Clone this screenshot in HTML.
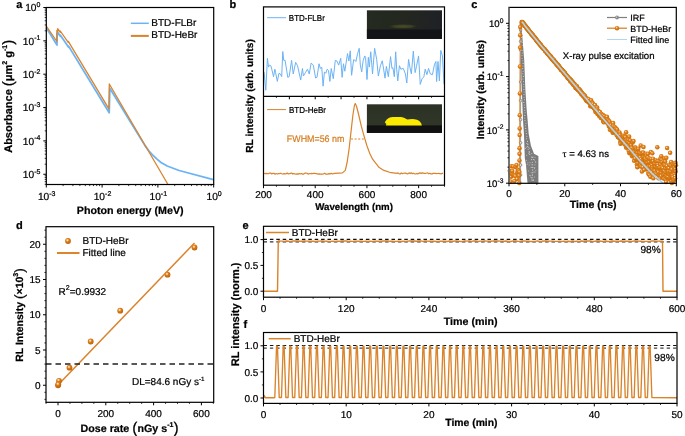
<!DOCTYPE html>
<html><head><meta charset="utf-8"><style>
html,body{margin:0;padding:0;background:#fff;overflow:hidden;}
svg{display:block;will-change:transform;}
text{font-family:"Liberation Sans",sans-serif;text-rendering:geometricPrecision;stroke:#000;stroke-width:0.22px;}
</style></head><body>
<svg width="685" height="436" viewBox="0 0 685 436">
<rect width="685" height="436" fill="#fff"/>
<text x="16.2" y="7.9" font-size="11" font-weight="bold" text-anchor="start" fill="#000" font-family="Liberation Sans" >a</text>
<polyline points="46.3,27.8 57,45 57,33.5 57.8,34.6 57.8,32.6 60.4,36.3 60.4,35.2 68.6,47.3 68.7,46.4 109.2,112.7 109.8,88.2 145,145.6 149,151 152.5,154.8 156.7,158.9 161,162.5 167.2,166 179.1,170.5 213.4,179.7" fill="none" stroke="#6cb3f5" stroke-width="1.8" stroke-linejoin="round" />
<polyline points="46.3,26.2 56.9,41.5 56.9,30.4 57.7,31.6 57.7,28.7 60.3,32.4 60.3,31 68.2,42.3 68.3,41.3 108.9,108.8 109.3,84 168,184.5" fill="none" stroke="#d9832b" stroke-width="1.3" stroke-linejoin="round" />
<rect x="46.3" y="7.5" width="167.4" height="177" fill="none" stroke="#000" stroke-width="1.2"/>
<line x1="43.3" y1="7.5" x2="46.3" y2="7.5" stroke="#000" stroke-width="1" />
<text x="40.4" y="11.3" font-size="10.2" text-anchor="end" font-weight="normal" font-family="Liberation Sans">10<tspan font-size="7" dy="-4.3">0</tspan></text>
<line x1="44.7" y1="30.81" x2="46.3" y2="30.81" stroke="#000" stroke-width="0.8" />
<line x1="44.7" y1="24.94" x2="46.3" y2="24.94" stroke="#000" stroke-width="0.8" />
<line x1="44.7" y1="20.77" x2="46.3" y2="20.77" stroke="#000" stroke-width="0.8" />
<line x1="44.7" y1="17.54" x2="46.3" y2="17.54" stroke="#000" stroke-width="0.8" />
<line x1="44.7" y1="14.9" x2="46.3" y2="14.9" stroke="#000" stroke-width="0.8" />
<line x1="44.7" y1="12.67" x2="46.3" y2="12.67" stroke="#000" stroke-width="0.8" />
<line x1="44.7" y1="10.73" x2="46.3" y2="10.73" stroke="#000" stroke-width="0.8" />
<line x1="44.7" y1="9.03" x2="46.3" y2="9.03" stroke="#000" stroke-width="0.8" />
<line x1="43.3" y1="40.85" x2="46.3" y2="40.85" stroke="#000" stroke-width="1" />
<text x="40.4" y="44.65" font-size="10.2" text-anchor="end" font-weight="normal" font-family="Liberation Sans">10<tspan font-size="7" dy="-4.3">-1</tspan></text>
<line x1="44.7" y1="64.16" x2="46.3" y2="64.16" stroke="#000" stroke-width="0.8" />
<line x1="44.7" y1="58.29" x2="46.3" y2="58.29" stroke="#000" stroke-width="0.8" />
<line x1="44.7" y1="54.12" x2="46.3" y2="54.12" stroke="#000" stroke-width="0.8" />
<line x1="44.7" y1="50.89" x2="46.3" y2="50.89" stroke="#000" stroke-width="0.8" />
<line x1="44.7" y1="48.25" x2="46.3" y2="48.25" stroke="#000" stroke-width="0.8" />
<line x1="44.7" y1="46.02" x2="46.3" y2="46.02" stroke="#000" stroke-width="0.8" />
<line x1="44.7" y1="44.08" x2="46.3" y2="44.08" stroke="#000" stroke-width="0.8" />
<line x1="44.7" y1="42.38" x2="46.3" y2="42.38" stroke="#000" stroke-width="0.8" />
<line x1="43.3" y1="74.2" x2="46.3" y2="74.2" stroke="#000" stroke-width="1" />
<text x="40.4" y="78" font-size="10.2" text-anchor="end" font-weight="normal" font-family="Liberation Sans">10<tspan font-size="7" dy="-4.3">-2</tspan></text>
<line x1="44.7" y1="97.51" x2="46.3" y2="97.51" stroke="#000" stroke-width="0.8" />
<line x1="44.7" y1="91.64" x2="46.3" y2="91.64" stroke="#000" stroke-width="0.8" />
<line x1="44.7" y1="87.47" x2="46.3" y2="87.47" stroke="#000" stroke-width="0.8" />
<line x1="44.7" y1="84.24" x2="46.3" y2="84.24" stroke="#000" stroke-width="0.8" />
<line x1="44.7" y1="81.6" x2="46.3" y2="81.6" stroke="#000" stroke-width="0.8" />
<line x1="44.7" y1="79.37" x2="46.3" y2="79.37" stroke="#000" stroke-width="0.8" />
<line x1="44.7" y1="77.43" x2="46.3" y2="77.43" stroke="#000" stroke-width="0.8" />
<line x1="44.7" y1="75.73" x2="46.3" y2="75.73" stroke="#000" stroke-width="0.8" />
<line x1="43.3" y1="107.55" x2="46.3" y2="107.55" stroke="#000" stroke-width="1" />
<text x="40.4" y="111.35" font-size="10.2" text-anchor="end" font-weight="normal" font-family="Liberation Sans">10<tspan font-size="7" dy="-4.3">-3</tspan></text>
<line x1="44.7" y1="130.86" x2="46.3" y2="130.86" stroke="#000" stroke-width="0.8" />
<line x1="44.7" y1="124.99" x2="46.3" y2="124.99" stroke="#000" stroke-width="0.8" />
<line x1="44.7" y1="120.82" x2="46.3" y2="120.82" stroke="#000" stroke-width="0.8" />
<line x1="44.7" y1="117.59" x2="46.3" y2="117.59" stroke="#000" stroke-width="0.8" />
<line x1="44.7" y1="114.95" x2="46.3" y2="114.95" stroke="#000" stroke-width="0.8" />
<line x1="44.7" y1="112.72" x2="46.3" y2="112.72" stroke="#000" stroke-width="0.8" />
<line x1="44.7" y1="110.78" x2="46.3" y2="110.78" stroke="#000" stroke-width="0.8" />
<line x1="44.7" y1="109.08" x2="46.3" y2="109.08" stroke="#000" stroke-width="0.8" />
<line x1="43.3" y1="140.9" x2="46.3" y2="140.9" stroke="#000" stroke-width="1" />
<text x="40.4" y="144.7" font-size="10.2" text-anchor="end" font-weight="normal" font-family="Liberation Sans">10<tspan font-size="7" dy="-4.3">-4</tspan></text>
<line x1="44.7" y1="164.21" x2="46.3" y2="164.21" stroke="#000" stroke-width="0.8" />
<line x1="44.7" y1="158.34" x2="46.3" y2="158.34" stroke="#000" stroke-width="0.8" />
<line x1="44.7" y1="154.17" x2="46.3" y2="154.17" stroke="#000" stroke-width="0.8" />
<line x1="44.7" y1="150.94" x2="46.3" y2="150.94" stroke="#000" stroke-width="0.8" />
<line x1="44.7" y1="148.3" x2="46.3" y2="148.3" stroke="#000" stroke-width="0.8" />
<line x1="44.7" y1="146.07" x2="46.3" y2="146.07" stroke="#000" stroke-width="0.8" />
<line x1="44.7" y1="144.13" x2="46.3" y2="144.13" stroke="#000" stroke-width="0.8" />
<line x1="44.7" y1="142.43" x2="46.3" y2="142.43" stroke="#000" stroke-width="0.8" />
<line x1="43.3" y1="174.25" x2="46.3" y2="174.25" stroke="#000" stroke-width="1" />
<text x="40.4" y="178.05" font-size="10.2" text-anchor="end" font-weight="normal" font-family="Liberation Sans">10<tspan font-size="7" dy="-4.3">-5</tspan></text>
<line x1="44.7" y1="184.29" x2="46.3" y2="184.29" stroke="#000" stroke-width="0.8" />
<line x1="44.7" y1="181.65" x2="46.3" y2="181.65" stroke="#000" stroke-width="0.8" />
<line x1="44.7" y1="179.42" x2="46.3" y2="179.42" stroke="#000" stroke-width="0.8" />
<line x1="44.7" y1="177.48" x2="46.3" y2="177.48" stroke="#000" stroke-width="0.8" />
<line x1="44.7" y1="175.78" x2="46.3" y2="175.78" stroke="#000" stroke-width="0.8" />
<line x1="46.3" y1="184.5" x2="46.3" y2="187.5" stroke="#000" stroke-width="1" />
<text x="46.7" y="199.9" font-size="10.2" text-anchor="middle" font-family="Liberation Sans">10<tspan font-size="7" dy="-4.2">-3</tspan></text>
<line x1="63.1" y1="184.5" x2="63.1" y2="186.1" stroke="#000" stroke-width="0.8" />
<line x1="72.92" y1="184.5" x2="72.92" y2="186.1" stroke="#000" stroke-width="0.8" />
<line x1="79.89" y1="184.5" x2="79.89" y2="186.1" stroke="#000" stroke-width="0.8" />
<line x1="85.3" y1="184.5" x2="85.3" y2="186.1" stroke="#000" stroke-width="0.8" />
<line x1="89.72" y1="184.5" x2="89.72" y2="186.1" stroke="#000" stroke-width="0.8" />
<line x1="93.46" y1="184.5" x2="93.46" y2="186.1" stroke="#000" stroke-width="0.8" />
<line x1="96.69" y1="184.5" x2="96.69" y2="186.1" stroke="#000" stroke-width="0.8" />
<line x1="99.55" y1="184.5" x2="99.55" y2="186.1" stroke="#000" stroke-width="0.8" />
<line x1="102.1" y1="184.5" x2="102.1" y2="187.5" stroke="#000" stroke-width="1" />
<text x="102.5" y="199.9" font-size="10.2" text-anchor="middle" font-family="Liberation Sans">10<tspan font-size="7" dy="-4.2">-2</tspan></text>
<line x1="118.9" y1="184.5" x2="118.9" y2="186.1" stroke="#000" stroke-width="0.8" />
<line x1="128.72" y1="184.5" x2="128.72" y2="186.1" stroke="#000" stroke-width="0.8" />
<line x1="135.69" y1="184.5" x2="135.69" y2="186.1" stroke="#000" stroke-width="0.8" />
<line x1="141.1" y1="184.5" x2="141.1" y2="186.1" stroke="#000" stroke-width="0.8" />
<line x1="145.52" y1="184.5" x2="145.52" y2="186.1" stroke="#000" stroke-width="0.8" />
<line x1="149.26" y1="184.5" x2="149.26" y2="186.1" stroke="#000" stroke-width="0.8" />
<line x1="152.49" y1="184.5" x2="152.49" y2="186.1" stroke="#000" stroke-width="0.8" />
<line x1="155.35" y1="184.5" x2="155.35" y2="186.1" stroke="#000" stroke-width="0.8" />
<line x1="157.9" y1="184.5" x2="157.9" y2="187.5" stroke="#000" stroke-width="1" />
<text x="158.3" y="199.9" font-size="10.2" text-anchor="middle" font-family="Liberation Sans">10<tspan font-size="7" dy="-4.2">-1</tspan></text>
<line x1="174.7" y1="184.5" x2="174.7" y2="186.1" stroke="#000" stroke-width="0.8" />
<line x1="184.52" y1="184.5" x2="184.52" y2="186.1" stroke="#000" stroke-width="0.8" />
<line x1="191.49" y1="184.5" x2="191.49" y2="186.1" stroke="#000" stroke-width="0.8" />
<line x1="196.9" y1="184.5" x2="196.9" y2="186.1" stroke="#000" stroke-width="0.8" />
<line x1="201.32" y1="184.5" x2="201.32" y2="186.1" stroke="#000" stroke-width="0.8" />
<line x1="205.06" y1="184.5" x2="205.06" y2="186.1" stroke="#000" stroke-width="0.8" />
<line x1="208.29" y1="184.5" x2="208.29" y2="186.1" stroke="#000" stroke-width="0.8" />
<line x1="211.15" y1="184.5" x2="211.15" y2="186.1" stroke="#000" stroke-width="0.8" />
<line x1="213.7" y1="184.5" x2="213.7" y2="187.5" stroke="#000" stroke-width="1" />
<text x="214.1" y="199.9" font-size="10.2" text-anchor="middle" font-family="Liberation Sans">10<tspan font-size="7" dy="-4.2">0</tspan></text>
<text x="130.2" y="213.6" font-size="10.7" font-weight="bold" text-anchor="middle" fill="#000" font-family="Liberation Sans" >Photon energy (MeV)</text>
<text transform="translate(11.9,152.8) rotate(-90)" font-size="11" font-weight="bold" text-anchor="start" font-family="Liberation Sans">Absorbance <tspan font-size="15" dy="1.2" font-weight="normal">(</tspan><tspan dy="-1.2">μm</tspan><tspan font-size="7" dy="-4.6">2</tspan><tspan dy="4.6"> g</tspan><tspan font-size="7" dy="-4.6">-1</tspan><tspan font-size="15" dy="5.8" font-weight="normal">)</tspan></text>
<line x1="130.8" y1="23.3" x2="148.8" y2="23.3" stroke="#6cb3f5" stroke-width="1.5" />
<line x1="130.8" y1="35.9" x2="148.8" y2="35.9" stroke="#d9832b" stroke-width="2" />
<text x="151.3" y="25.6" font-size="10" font-weight="normal" text-anchor="start" fill="#000" font-family="Liberation Sans" >BTD-FLBr</text>
<text x="151.3" y="38.1" font-size="10" font-weight="normal" text-anchor="start" fill="#000" font-family="Liberation Sans" >BTD-HeBr</text>
<text x="229.6" y="8" font-size="11" font-weight="bold" text-anchor="start" fill="#000" font-family="Liberation Sans" >b</text>
<polyline points="264.04,71.9 265.8,90.23 267.43,58.33 268.52,67.15 269.47,65.12 270.82,65.79 271.77,69.19 273.54,76.65 274.9,69.19 275.58,72.58 277.34,81.41 278.97,73.26 280.33,73.94 281.69,76.65 282.77,51.54 283.72,60.36 285.08,60.36 287.79,77.33 289.15,76.65 291.6,60.36 293.22,73.94 295.67,62.4 297.57,65.79 300.69,80.05 302.46,68.51 303.41,75.98 305.44,72.58 307.48,69.19 309.24,73.94 311.14,63.08 313.32,65.12 315.62,78.01 316.98,77.33 319.02,63.76 320.38,68.51 321.73,67.15 323.09,86.16 324.45,71.9 325.81,73.26 327.16,69.19 328.52,70.55 329.88,81.41 331.24,68.51 333.27,78.69 335.31,60.36 336.94,61.04 338.7,65.12 340.74,58.33 342.1,77.33 343.46,63.76 344.81,71.22 347.53,53.58 348.89,61.04 350.24,50.86 351.6,75.3 353.64,59.69 354.77,60.11 355.88,61.5 357.55,53.87 359.21,48.32 360.32,64.97 361.71,71.9 363.1,60.8 364.76,55.95 365.59,57.34 366.98,79.53 368.37,57.34 369.34,67.05 370.72,51.79 371.42,59.42 372.53,73.98 374.61,48.32 376.69,59.42 378.35,76.06 380.43,65.66 382.24,60.8 383.62,69.13 385.01,78.14 386.4,66.35 388.34,76.75 390.56,56.64 391.94,68.43 392.92,67.74 394.3,76.75 395.69,51.79 396.66,69.13 397.77,80.92 399.43,65.66 400.82,69.13 403.32,68.43 405.4,73.98 406.79,83 408.59,59.42 409.98,67.74 411.36,73.98 413.3,51.1 415.11,72.59 416.49,66.35 418.57,55.95 420.24,84.38 422.04,78.83 423.84,76.75 425.23,69.13 426.9,74.67 428.56,68.43 430.36,73.98 432.44,74.67 434.52,64.27 435.91,61.5 436.6,81.61 437.99,61.5 439.38,80.92 440.77,50.4 442.43,55.95 444,84.38" fill="none" stroke="#6cb3f5" stroke-width="1" stroke-linejoin="round" />
<polyline points="264.1,173.29 265.2,173.65 266.3,173.44 267.4,173.72 268.5,173.75 269.6,173.08 270.7,173.02 271.8,174 272.9,173.31 274,173.28 275.1,174.19 276.2,173.56 277.3,174 278.4,173.57 279.5,173.77 280.6,173.18 281.7,173.76 282.8,174.04 283.9,173.63 285,173.89 286.1,173.81 287.2,173.08 288.3,173.91 289.4,173.71 290.5,173.36 291.6,173.04 292.7,174.04 293.8,173.57 294.9,173.86 296,174.05 297.1,173.86 298.2,174.11 299.3,173.47 300.4,173.96 301.5,173.53 302.6,174.12 303.7,174.05 304.8,173.12 305.9,173.16 307,173.26 308.1,174.16 309.2,173.52 310.3,173.75 311.4,173.36 312.5,173.61 313.6,173.46 314.7,173.42 315.8,173.7 316.9,173.7 318,174.09 319.1,173.82 320.2,174.11 321.3,174.03 322.4,174.19 323.5,173.81 324.6,173.2 325.7,174.03 326.8,174.16 327.9,174.09 329,173.68 330.1,173.86 331.2,173.25 332.3,174 333.4,173.69 334.5,173.34 335,173.3 342.5,172.9 345.3,170.4 347.2,162 349.1,148.8 351,131.9 352.9,115 354.4,105.5 355.3,103.6 356.6,106.5 358.5,114 361.3,126.2 364.2,136.6 367,146 369.8,153.5 372.6,159.2 375.5,162.9 379.2,167.6 383.9,170.4 389.6,172.3 397.1,173.3 398,172.88 399.1,173.82 400.2,173.99 401.3,172.91 402.4,173.76 403.5,173.29 404.6,172.98 405.7,173.15 406.8,173.72 407.9,173.85 409,172.85 410.1,173.54 411.2,172.85 412.3,173.66 413.4,173.2 414.5,173.86 415.6,173.98 416.7,173.41 417.8,174 418.9,173.17 420,172.89 421.1,173.52 422.2,172.84 423.3,173.04 424.4,173.29 425.5,173.53 426.6,172.99 427.7,172.85 428.8,173.84 429.9,173.18 431,173.95 432.1,173.88 433.2,173.25 434.3,173.35 435.4,173.42 436.5,173.57 437.6,173.51 438.7,173.47 439.8,173.54 440.9,173.93 442,173.41 443.1,173.32" fill="none" stroke="#d9832b" stroke-width="1.2" stroke-linejoin="round" />
<line x1="351" y1="139" x2="365" y2="139" stroke="#d9832b" stroke-width="1" stroke-dasharray="2,1.6"/>
<text x="286.8" y="141.8" font-size="9.6" font-weight="normal" text-anchor="start" fill="#d67d1e" font-family="Liberation Sans" textLength="57.6" lengthAdjust="spacingAndGlyphs" style="stroke:#d67d1e">FWHM=56 nm</text>
<defs><linearGradient id="ins1" x1="0" x2="1" y1="0" y2="0"><stop offset="0" stop-color="#252b21"/><stop offset="0.5" stop-color="#23271f"/><stop offset="1" stop-color="#1f2126"/></linearGradient><radialGradient id="glow" cx="0.5" cy="0.5" r="0.5"><stop offset="0" stop-color="#4a4d25"/><stop offset="0.6" stop-color="#3a3e24"/><stop offset="1" stop-color="#23271f" stop-opacity="0"/></radialGradient><linearGradient id="ins2" x1="0" x2="0" y1="0" y2="1"><stop offset="0" stop-color="#2b3124"/><stop offset="1" stop-color="#323829"/></linearGradient></defs>
<rect x="366.9" y="10.3" width="75.1" height="28.6" fill="url(#ins1)" />
<ellipse cx="403" cy="26.4" rx="16" ry="2.6" fill="url(#glow)"/>
<rect x="366.9" y="29.5" width="75.1" height="9.4" fill="#131418" />
<rect x="366.9" y="104.3" width="75.1" height="28.6" fill="url(#ins2)" />
<rect x="366.9" y="125.4" width="75.1" height="7.5" fill="#101110" />
<path d="M384.8,122.2 L386.5,119.8 C388,117.9 390,117 393,116.9 L401,116.9 C404.5,117.2 406,118.8 407.5,119.6 C410,118.8 414,118.6 417,119.8 C420,121 421.6,123 421.8,125.6 L386,125.6 L386.3,124 Z" fill="#fbeb00"/>
<rect x="263.5" y="6.9" width="181" height="178.3" fill="none" stroke="#000" stroke-width="1.2"/>
<line x1="263.5" y1="96.3" x2="444.5" y2="96.3" stroke="#000" stroke-width="1.2" />
<line x1="263.5" y1="185.2" x2="263.5" y2="188.2" stroke="#000" stroke-width="1" />
<line x1="263.5" y1="96.3" x2="263.5" y2="99.3" stroke="#000" stroke-width="1" />
<text x="263.5" y="198.3" font-size="10" font-weight="normal" text-anchor="middle" fill="#000" font-family="Liberation Sans" >200</text>
<line x1="276.43" y1="185.2" x2="276.43" y2="186.8" stroke="#000" stroke-width="0.8" />
<line x1="276.43" y1="96.3" x2="276.43" y2="97.9" stroke="#000" stroke-width="0.8" />
<line x1="289.36" y1="185.2" x2="289.36" y2="186.8" stroke="#000" stroke-width="0.8" />
<line x1="289.36" y1="96.3" x2="289.36" y2="99.3" stroke="#000" stroke-width="1" />
<line x1="302.29" y1="185.2" x2="302.29" y2="186.8" stroke="#000" stroke-width="0.8" />
<line x1="302.29" y1="96.3" x2="302.29" y2="97.9" stroke="#000" stroke-width="0.8" />
<line x1="315.21" y1="185.2" x2="315.21" y2="188.2" stroke="#000" stroke-width="1" />
<line x1="315.21" y1="96.3" x2="315.21" y2="99.3" stroke="#000" stroke-width="1" />
<text x="315.21" y="198.3" font-size="10" font-weight="normal" text-anchor="middle" fill="#000" font-family="Liberation Sans" >400</text>
<line x1="328.14" y1="185.2" x2="328.14" y2="186.8" stroke="#000" stroke-width="0.8" />
<line x1="328.14" y1="96.3" x2="328.14" y2="97.9" stroke="#000" stroke-width="0.8" />
<line x1="341.07" y1="185.2" x2="341.07" y2="186.8" stroke="#000" stroke-width="0.8" />
<line x1="341.07" y1="96.3" x2="341.07" y2="99.3" stroke="#000" stroke-width="1" />
<line x1="354" y1="185.2" x2="354" y2="186.8" stroke="#000" stroke-width="0.8" />
<line x1="354" y1="96.3" x2="354" y2="97.9" stroke="#000" stroke-width="0.8" />
<line x1="366.93" y1="185.2" x2="366.93" y2="188.2" stroke="#000" stroke-width="1" />
<line x1="366.93" y1="96.3" x2="366.93" y2="99.3" stroke="#000" stroke-width="1" />
<text x="366.93" y="198.3" font-size="10" font-weight="normal" text-anchor="middle" fill="#000" font-family="Liberation Sans" >600</text>
<line x1="379.86" y1="185.2" x2="379.86" y2="186.8" stroke="#000" stroke-width="0.8" />
<line x1="379.86" y1="96.3" x2="379.86" y2="97.9" stroke="#000" stroke-width="0.8" />
<line x1="392.79" y1="185.2" x2="392.79" y2="186.8" stroke="#000" stroke-width="0.8" />
<line x1="392.79" y1="96.3" x2="392.79" y2="99.3" stroke="#000" stroke-width="1" />
<line x1="405.71" y1="185.2" x2="405.71" y2="186.8" stroke="#000" stroke-width="0.8" />
<line x1="405.71" y1="96.3" x2="405.71" y2="97.9" stroke="#000" stroke-width="0.8" />
<line x1="418.64" y1="185.2" x2="418.64" y2="188.2" stroke="#000" stroke-width="1" />
<line x1="418.64" y1="96.3" x2="418.64" y2="99.3" stroke="#000" stroke-width="1" />
<text x="418.64" y="198.3" font-size="10" font-weight="normal" text-anchor="middle" fill="#000" font-family="Liberation Sans" >800</text>
<line x1="431.57" y1="185.2" x2="431.57" y2="186.8" stroke="#000" stroke-width="0.8" />
<line x1="431.57" y1="96.3" x2="431.57" y2="97.9" stroke="#000" stroke-width="0.8" />
<line x1="444.5" y1="185.2" x2="444.5" y2="186.8" stroke="#000" stroke-width="0.8" />
<line x1="444.5" y1="96.3" x2="444.5" y2="99.3" stroke="#000" stroke-width="1" />
<text x="354.1" y="209.9" font-size="9.7" font-weight="bold" text-anchor="middle" fill="#000" font-family="Liberation Sans" >Wavelength (nm)</text>
<text transform="translate(253.2,96) rotate(-90)" font-size="10.2" font-weight="bold" text-anchor="middle" font-family="Liberation Sans">RL intensity (arb. units)</text>
<line x1="267.1" y1="17.7" x2="286" y2="17.7" stroke="#6cb3f5" stroke-width="1" />
<text x="288.8" y="20.8" font-size="8.6" font-weight="normal" text-anchor="start" fill="#000" font-family="Liberation Sans" textLength="36" lengthAdjust="spacingAndGlyphs">BTD-FLBr</text>
<line x1="267.1" y1="109.6" x2="285.9" y2="109.6" stroke="#d9832b" stroke-width="1" />
<text x="288.9" y="113.1" font-size="8.6" font-weight="normal" text-anchor="start" fill="#000" font-family="Liberation Sans" textLength="37.1" lengthAdjust="spacingAndGlyphs">BTD-HeBr</text>
<text x="471.2" y="7.7" font-size="11" font-weight="bold" text-anchor="start" fill="#000" font-family="Liberation Sans" >c</text>
<defs><radialGradient id="ob" cx="0.42" cy="0.38" r="0.62"><stop offset="0" stop-color="#fff6ea"/><stop offset="0.22" stop-color="#eda052"/><stop offset="0.5" stop-color="#d97a10"/><stop offset="1" stop-color="#cb6d0b"/></radialGradient></defs>
<path d="M520.2,22.4 L521.4,25 L522.6,40 L524.2,60 L525.4,90 L526.7,110 L527.6,120 L528.7,134 L531,146 L532.6,150 L534,153.8 L538.4,156 L538.4,183.3 L527.5,183.3 L526,165 L524.8,158 L524,135 L523,120 L521.8,90 L520.9,60 L520.4,40 L519.6,28 L519.6,23.5 Z" fill="#7c7c7c"/>
<circle cx="520.88" cy="27" r="0.55" fill="#d4d4d4"/>
<circle cx="520.57" cy="29.6" r="0.55" fill="#d4d4d4"/>
<circle cx="521.01" cy="32.2" r="0.55" fill="#d4d4d4"/>
<circle cx="521.34" cy="34.8" r="0.55" fill="#d4d4d4"/>
<circle cx="521.48" cy="37.4" r="0.55" fill="#d4d4d4"/>
<circle cx="521.83" cy="40" r="0.55" fill="#d4d4d4"/>
<circle cx="521.92" cy="42.6" r="0.55" fill="#d4d4d4"/>
<circle cx="522.11" cy="45.2" r="0.55" fill="#d4d4d4"/>
<circle cx="521.53" cy="47.8" r="0.55" fill="#d4d4d4"/>
<circle cx="522" cy="50.4" r="0.55" fill="#d4d4d4"/>
<circle cx="522.17" cy="53" r="0.55" fill="#d4d4d4"/>
<circle cx="521.97" cy="55.6" r="0.55" fill="#d4d4d4"/>
<circle cx="522.06" cy="58.2" r="0.55" fill="#d4d4d4"/>
<circle cx="522.84" cy="60.8" r="0.55" fill="#d4d4d4"/>
<circle cx="523.06" cy="63.4" r="0.55" fill="#d4d4d4"/>
<circle cx="522.99" cy="66" r="0.55" fill="#d4d4d4"/>
<circle cx="522.7" cy="68.6" r="0.55" fill="#d4d4d4"/>
<circle cx="523.11" cy="71.2" r="0.55" fill="#d4d4d4"/>
<circle cx="522.87" cy="73.8" r="0.55" fill="#d4d4d4"/>
<circle cx="523.32" cy="76.4" r="0.55" fill="#d4d4d4"/>
<circle cx="523.04" cy="79" r="0.55" fill="#d4d4d4"/>
<circle cx="523.53" cy="81.6" r="0.55" fill="#d4d4d4"/>
<circle cx="523.79" cy="84.2" r="0.55" fill="#d4d4d4"/>
<circle cx="523.88" cy="86.8" r="0.55" fill="#d4d4d4"/>
<circle cx="523.89" cy="89.4" r="0.55" fill="#d4d4d4"/>
<circle cx="524.04" cy="92" r="0.55" fill="#d4d4d4"/>
<circle cx="524.01" cy="94.6" r="0.55" fill="#d4d4d4"/>
<circle cx="524.02" cy="97.2" r="0.55" fill="#d4d4d4"/>
<circle cx="524.45" cy="99.8" r="0.55" fill="#d4d4d4"/>
<circle cx="523.92" cy="102.4" r="0.55" fill="#d4d4d4"/>
<circle cx="524.28" cy="105" r="0.55" fill="#d4d4d4"/>
<circle cx="524.61" cy="107.6" r="0.55" fill="#d4d4d4"/>
<circle cx="524.65" cy="110.2" r="0.55" fill="#d4d4d4"/>
<circle cx="525.07" cy="112.8" r="0.55" fill="#d4d4d4"/>
<circle cx="524.76" cy="115.4" r="0.55" fill="#d4d4d4"/>
<circle cx="524.82" cy="118" r="0.55" fill="#d4d4d4"/>
<circle cx="525.04" cy="120.6" r="0.55" fill="#d4d4d4"/>
<circle cx="525.9" cy="123.2" r="0.55" fill="#d4d4d4"/>
<circle cx="525.43" cy="125.8" r="0.55" fill="#d4d4d4"/>
<circle cx="525.69" cy="128.4" r="0.55" fill="#d4d4d4"/>
<circle cx="526" cy="131" r="0.55" fill="#d4d4d4"/>
<circle cx="526.39" cy="133.6" r="0.55" fill="#d4d4d4"/>
<circle cx="526.81" cy="136.2" r="0.55" fill="#d4d4d4"/>
<circle cx="526.54" cy="138.8" r="0.55" fill="#d4d4d4"/>
<circle cx="527.52" cy="141.4" r="0.55" fill="#d4d4d4"/>
<circle cx="527.68" cy="144" r="0.55" fill="#d4d4d4"/>
<circle cx="526.69" cy="143.38" r="0.5" fill="#c8c8c8"/>
<circle cx="527.88" cy="144.19" r="0.5" fill="#c8c8c8"/>
<circle cx="527.64" cy="146.6" r="0.55" fill="#d4d4d4"/>
<circle cx="526.22" cy="147.13" r="0.5" fill="#c8c8c8"/>
<circle cx="528.66" cy="147.2" r="0.5" fill="#c8c8c8"/>
<circle cx="528.16" cy="149.2" r="0.55" fill="#d4d4d4"/>
<circle cx="529.68" cy="148.35" r="0.5" fill="#c8c8c8"/>
<circle cx="525.54" cy="148.56" r="0.5" fill="#c8c8c8"/>
<circle cx="529.15" cy="151.8" r="0.55" fill="#d4d4d4"/>
<circle cx="529.19" cy="152.03" r="0.5" fill="#c8c8c8"/>
<circle cx="529.54" cy="152.07" r="0.5" fill="#c8c8c8"/>
<circle cx="529.8" cy="154.4" r="0.55" fill="#d4d4d4"/>
<circle cx="531.82" cy="153.43" r="0.5" fill="#c8c8c8"/>
<circle cx="528.89" cy="153.51" r="0.5" fill="#c8c8c8"/>
<circle cx="526.75" cy="155.21" r="0.5" fill="#c8c8c8"/>
<circle cx="531.66" cy="157" r="0.55" fill="#d4d4d4"/>
<circle cx="534.97" cy="157.21" r="0.5" fill="#c8c8c8"/>
<circle cx="532.42" cy="157.59" r="0.5" fill="#c8c8c8"/>
<circle cx="533.02" cy="157.02" r="0.5" fill="#c8c8c8"/>
<circle cx="532.24" cy="157.14" r="0.5" fill="#c8c8c8"/>
<circle cx="531.61" cy="159.6" r="0.55" fill="#d4d4d4"/>
<circle cx="533.64" cy="159.41" r="0.5" fill="#c8c8c8"/>
<circle cx="533.49" cy="159.57" r="0.5" fill="#c8c8c8"/>
<circle cx="534.55" cy="159.99" r="0.5" fill="#c8c8c8"/>
<circle cx="526.52" cy="160.16" r="0.5" fill="#c8c8c8"/>
<circle cx="532.28" cy="162.2" r="0.55" fill="#d4d4d4"/>
<circle cx="530.12" cy="162.67" r="0.5" fill="#c8c8c8"/>
<circle cx="535.72" cy="162.2" r="0.5" fill="#c8c8c8"/>
<circle cx="527.92" cy="162.66" r="0.5" fill="#c8c8c8"/>
<circle cx="535.64" cy="161.82" r="0.5" fill="#c8c8c8"/>
<circle cx="531.96" cy="164.8" r="0.55" fill="#d4d4d4"/>
<circle cx="534.97" cy="164.83" r="0.5" fill="#c8c8c8"/>
<circle cx="527.12" cy="164.19" r="0.5" fill="#c8c8c8"/>
<circle cx="529.23" cy="164.96" r="0.5" fill="#c8c8c8"/>
<circle cx="532.8" cy="164.83" r="0.5" fill="#c8c8c8"/>
<circle cx="532.17" cy="167.4" r="0.55" fill="#d4d4d4"/>
<circle cx="531.2" cy="167.4" r="0.5" fill="#c8c8c8"/>
<circle cx="533" cy="167.53" r="0.5" fill="#c8c8c8"/>
<circle cx="534.5" cy="168.39" r="0.5" fill="#c8c8c8"/>
<circle cx="534.84" cy="167.38" r="0.5" fill="#c8c8c8"/>
<circle cx="532.79" cy="170" r="0.55" fill="#d4d4d4"/>
<circle cx="528.66" cy="170.91" r="0.5" fill="#c8c8c8"/>
<circle cx="532.41" cy="169.97" r="0.5" fill="#c8c8c8"/>
<circle cx="535.89" cy="170.22" r="0.5" fill="#c8c8c8"/>
<circle cx="532.77" cy="172.6" r="0.55" fill="#d4d4d4"/>
<circle cx="531.23" cy="172.71" r="0.5" fill="#c8c8c8"/>
<circle cx="533.97" cy="172.07" r="0.5" fill="#c8c8c8"/>
<circle cx="535.09" cy="171.91" r="0.5" fill="#c8c8c8"/>
<circle cx="532.32" cy="175.2" r="0.55" fill="#d4d4d4"/>
<circle cx="530.41" cy="175.82" r="0.5" fill="#c8c8c8"/>
<circle cx="532.38" cy="174.27" r="0.5" fill="#c8c8c8"/>
<circle cx="529.73" cy="175.33" r="0.5" fill="#c8c8c8"/>
<circle cx="532.37" cy="177.8" r="0.55" fill="#d4d4d4"/>
<circle cx="531" cy="177.22" r="0.5" fill="#c8c8c8"/>
<circle cx="534.5" cy="177.09" r="0.5" fill="#c8c8c8"/>
<circle cx="531.51" cy="177.7" r="0.5" fill="#c8c8c8"/>
<circle cx="533.15" cy="180.4" r="0.55" fill="#d4d4d4"/>
<circle cx="531.95" cy="179.67" r="0.5" fill="#c8c8c8"/>
<circle cx="532.11" cy="180.14" r="0.5" fill="#c8c8c8"/>
<circle cx="533.45" cy="179.65" r="0.5" fill="#c8c8c8"/>
<line x1="520.6" y1="183.3" x2="520.6" y2="23" stroke="#7f7f7f" stroke-width="0.8" />
<circle cx="520.6" cy="29.8" r="1.3" fill="#e6e6e6" stroke="#7f7f7f" stroke-width="0.8"/>
<circle cx="520.6" cy="41.4" r="1.3" fill="#e6e6e6" stroke="#7f7f7f" stroke-width="0.8"/>
<circle cx="520.6" cy="50" r="1.3" fill="#e6e6e6" stroke="#7f7f7f" stroke-width="0.8"/>
<circle cx="520.6" cy="82" r="1.3" fill="#e6e6e6" stroke="#7f7f7f" stroke-width="0.8"/>
<circle cx="520.6" cy="100.6" r="1.3" fill="#e6e6e6" stroke="#7f7f7f" stroke-width="0.8"/>
<circle cx="520.6" cy="119.7" r="1.3" fill="#e6e6e6" stroke="#7f7f7f" stroke-width="0.8"/>
<circle cx="520.6" cy="142.8" r="1.3" fill="#e6e6e6" stroke="#7f7f7f" stroke-width="0.8"/>
<circle cx="520.6" cy="165" r="1.3" fill="#e6e6e6" stroke="#7f7f7f" stroke-width="0.8"/>
<circle cx="520.6" cy="175" r="1.3" fill="#e6e6e6" stroke="#7f7f7f" stroke-width="0.8"/>
<polyline points="519.04,175.56 519.3,183 519.37,172 519.44,160.4 519.48,153.8 519.52,148.3 519.6,135 519.64,128.5 519.72,115.3 519.86,93.4 520.03,66.5 520.15,47.6 520.22,35.2 520.27,27 521.7,22.09 521.9,22.34 522.1,22.08 522.3,22.37" fill="none" stroke="#d9832b" stroke-width="0.9" stroke-linejoin="round" />
<circle cx="509.8" cy="170.82" r="2.25" fill="url(#ob)"/>
<circle cx="510.22" cy="173.01" r="2.25" fill="url(#ob)"/>
<circle cx="510.64" cy="181.47" r="2.25" fill="url(#ob)"/>
<circle cx="511.06" cy="176.85" r="2.25" fill="url(#ob)"/>
<circle cx="511.48" cy="166.26" r="2.25" fill="url(#ob)"/>
<circle cx="511.9" cy="173.79" r="2.25" fill="url(#ob)"/>
<circle cx="512.32" cy="170.95" r="2.25" fill="url(#ob)"/>
<circle cx="512.74" cy="174.5" r="2.25" fill="url(#ob)"/>
<circle cx="513.16" cy="166.42" r="2.25" fill="url(#ob)"/>
<circle cx="513.58" cy="174.93" r="2.25" fill="url(#ob)"/>
<circle cx="514" cy="174.9" r="2.25" fill="url(#ob)"/>
<circle cx="514.42" cy="181.06" r="2.25" fill="url(#ob)"/>
<circle cx="514.84" cy="175.27" r="2.25" fill="url(#ob)"/>
<circle cx="515.26" cy="176.16" r="2.25" fill="url(#ob)"/>
<circle cx="515.68" cy="166.95" r="2.25" fill="url(#ob)"/>
<circle cx="516.52" cy="165" r="2.25" fill="url(#ob)"/>
<circle cx="516.94" cy="178.88" r="2.25" fill="url(#ob)"/>
<circle cx="517.36" cy="172.3" r="2.25" fill="url(#ob)"/>
<circle cx="517.78" cy="169.76" r="2.25" fill="url(#ob)"/>
<circle cx="518.2" cy="170.8" r="2.25" fill="url(#ob)"/>
<circle cx="518.62" cy="170.72" r="2.25" fill="url(#ob)"/>
<circle cx="519.04" cy="175.56" r="2.25" fill="url(#ob)"/>
<circle cx="519.3" cy="183" r="2.25" fill="url(#ob)"/>
<circle cx="519.37" cy="172" r="2.25" fill="url(#ob)"/>
<circle cx="519.44" cy="160.4" r="2.25" fill="url(#ob)"/>
<circle cx="519.48" cy="153.8" r="2.25" fill="url(#ob)"/>
<circle cx="519.52" cy="148.3" r="2.25" fill="url(#ob)"/>
<circle cx="519.6" cy="135" r="2.25" fill="url(#ob)"/>
<circle cx="519.64" cy="128.5" r="2.25" fill="url(#ob)"/>
<circle cx="519.72" cy="115.3" r="2.25" fill="url(#ob)"/>
<circle cx="519.86" cy="93.4" r="2.25" fill="url(#ob)"/>
<circle cx="520.03" cy="66.5" r="2.25" fill="url(#ob)"/>
<circle cx="520.15" cy="47.6" r="2.25" fill="url(#ob)"/>
<circle cx="520.22" cy="35.2" r="2.25" fill="url(#ob)"/>
<circle cx="520.27" cy="27" r="2.25" fill="url(#ob)"/>
<circle cx="521.7" cy="22.09" r="2.25" fill="url(#ob)"/>
<circle cx="521.9" cy="22.34" r="2.25" fill="url(#ob)"/>
<circle cx="522.1" cy="22.08" r="2.25" fill="url(#ob)"/>
<circle cx="522.3" cy="22.37" r="2.25" fill="url(#ob)"/>
<circle cx="522.5" cy="22.36" r="2.25" fill="url(#ob)"/>
<circle cx="522.7" cy="22.71" r="2.25" fill="url(#ob)"/>
<circle cx="522.9" cy="22.63" r="2.25" fill="url(#ob)"/>
<circle cx="523.1" cy="23.07" r="2.25" fill="url(#ob)"/>
<circle cx="523.3" cy="23.38" r="2.25" fill="url(#ob)"/>
<circle cx="523.5" cy="23.43" r="2.25" fill="url(#ob)"/>
<circle cx="523.7" cy="24.03" r="2.25" fill="url(#ob)"/>
<circle cx="523.9" cy="24.26" r="2.25" fill="url(#ob)"/>
<circle cx="524.1" cy="24.68" r="2.25" fill="url(#ob)"/>
<circle cx="524.3" cy="24.99" r="2.25" fill="url(#ob)"/>
<circle cx="524.5" cy="25.08" r="2.25" fill="url(#ob)"/>
<circle cx="524.7" cy="25.35" r="2.25" fill="url(#ob)"/>
<circle cx="524.9" cy="25.67" r="2.25" fill="url(#ob)"/>
<circle cx="525.1" cy="26.03" r="2.25" fill="url(#ob)"/>
<circle cx="525.3" cy="26.29" r="2.25" fill="url(#ob)"/>
<circle cx="525.5" cy="26.35" r="2.25" fill="url(#ob)"/>
<circle cx="525.7" cy="26.61" r="2.25" fill="url(#ob)"/>
<circle cx="525.9" cy="26.83" r="2.25" fill="url(#ob)"/>
<circle cx="526.1" cy="27.11" r="2.25" fill="url(#ob)"/>
<circle cx="526.3" cy="27.4" r="2.25" fill="url(#ob)"/>
<circle cx="526.5" cy="27.66" r="2.25" fill="url(#ob)"/>
<circle cx="526.7" cy="28.19" r="2.25" fill="url(#ob)"/>
<circle cx="526.9" cy="28.11" r="2.25" fill="url(#ob)"/>
<circle cx="527.1" cy="28.38" r="2.25" fill="url(#ob)"/>
<circle cx="527.3" cy="28.73" r="2.25" fill="url(#ob)"/>
<circle cx="527.5" cy="28.79" r="2.25" fill="url(#ob)"/>
<circle cx="527.7" cy="29.11" r="2.25" fill="url(#ob)"/>
<circle cx="527.9" cy="29.41" r="2.25" fill="url(#ob)"/>
<circle cx="528.1" cy="29.76" r="2.25" fill="url(#ob)"/>
<circle cx="528.3" cy="29.73" r="2.25" fill="url(#ob)"/>
<circle cx="528.5" cy="30.34" r="2.25" fill="url(#ob)"/>
<circle cx="528.7" cy="30.35" r="2.25" fill="url(#ob)"/>
<circle cx="528.9" cy="30.67" r="2.25" fill="url(#ob)"/>
<circle cx="529.1" cy="31.02" r="2.25" fill="url(#ob)"/>
<circle cx="529.3" cy="31.24" r="2.25" fill="url(#ob)"/>
<circle cx="529.5" cy="31.55" r="2.25" fill="url(#ob)"/>
<circle cx="529.7" cy="31.67" r="2.25" fill="url(#ob)"/>
<circle cx="529.9" cy="31.89" r="2.25" fill="url(#ob)"/>
<circle cx="530.1" cy="32.18" r="2.25" fill="url(#ob)"/>
<circle cx="530.3" cy="32.24" r="2.25" fill="url(#ob)"/>
<circle cx="530.5" cy="32.81" r="2.25" fill="url(#ob)"/>
<circle cx="530.7" cy="32.76" r="2.25" fill="url(#ob)"/>
<circle cx="530.9" cy="32.94" r="2.25" fill="url(#ob)"/>
<circle cx="531.1" cy="33.69" r="2.25" fill="url(#ob)"/>
<circle cx="531.3" cy="33.6" r="2.25" fill="url(#ob)"/>
<circle cx="531.5" cy="33.69" r="2.25" fill="url(#ob)"/>
<circle cx="531.7" cy="34.41" r="2.25" fill="url(#ob)"/>
<circle cx="531.9" cy="34.32" r="2.25" fill="url(#ob)"/>
<circle cx="532.1" cy="34.78" r="2.25" fill="url(#ob)"/>
<circle cx="532.3" cy="34.73" r="2.25" fill="url(#ob)"/>
<circle cx="532.5" cy="35.07" r="2.25" fill="url(#ob)"/>
<circle cx="532.7" cy="35.09" r="2.25" fill="url(#ob)"/>
<circle cx="532.9" cy="35.3" r="2.25" fill="url(#ob)"/>
<circle cx="533.1" cy="35.69" r="2.25" fill="url(#ob)"/>
<circle cx="533.3" cy="36.09" r="2.25" fill="url(#ob)"/>
<circle cx="533.5" cy="36.48" r="2.25" fill="url(#ob)"/>
<circle cx="533.7" cy="37" r="2.25" fill="url(#ob)"/>
<circle cx="533.9" cy="36.67" r="2.25" fill="url(#ob)"/>
<circle cx="534.1" cy="37.26" r="2.25" fill="url(#ob)"/>
<circle cx="534.3" cy="37.24" r="2.25" fill="url(#ob)"/>
<circle cx="534.5" cy="37.56" r="2.25" fill="url(#ob)"/>
<circle cx="534.7" cy="37.58" r="2.25" fill="url(#ob)"/>
<circle cx="534.9" cy="37.83" r="2.25" fill="url(#ob)"/>
<circle cx="535.1" cy="38.2" r="2.25" fill="url(#ob)"/>
<circle cx="535.3" cy="38.37" r="2.25" fill="url(#ob)"/>
<circle cx="535.5" cy="38.83" r="2.25" fill="url(#ob)"/>
<circle cx="535.7" cy="38.95" r="2.25" fill="url(#ob)"/>
<circle cx="535.9" cy="39.54" r="2.25" fill="url(#ob)"/>
<circle cx="536.1" cy="39.6" r="2.25" fill="url(#ob)"/>
<circle cx="536.3" cy="39.85" r="2.25" fill="url(#ob)"/>
<circle cx="536.5" cy="40.27" r="2.25" fill="url(#ob)"/>
<circle cx="536.7" cy="40.41" r="2.25" fill="url(#ob)"/>
<circle cx="536.9" cy="40.55" r="2.25" fill="url(#ob)"/>
<circle cx="537.1" cy="40.79" r="2.25" fill="url(#ob)"/>
<circle cx="537.3" cy="41.03" r="2.25" fill="url(#ob)"/>
<circle cx="537.5" cy="41.5" r="2.25" fill="url(#ob)"/>
<circle cx="537.7" cy="41.7" r="2.25" fill="url(#ob)"/>
<circle cx="537.9" cy="41.87" r="2.25" fill="url(#ob)"/>
<circle cx="538.1" cy="42.2" r="2.25" fill="url(#ob)"/>
<circle cx="538.3" cy="42.19" r="2.25" fill="url(#ob)"/>
<circle cx="538.5" cy="42.64" r="2.25" fill="url(#ob)"/>
<circle cx="538.7" cy="42.52" r="2.25" fill="url(#ob)"/>
<circle cx="538.9" cy="43.3" r="2.25" fill="url(#ob)"/>
<circle cx="539.1" cy="43.3" r="2.25" fill="url(#ob)"/>
<circle cx="539.3" cy="43.57" r="2.25" fill="url(#ob)"/>
<circle cx="539.5" cy="43.9" r="2.25" fill="url(#ob)"/>
<circle cx="539.7" cy="44.03" r="2.25" fill="url(#ob)"/>
<circle cx="539.9" cy="44.23" r="2.25" fill="url(#ob)"/>
<circle cx="540.1" cy="44.75" r="2.25" fill="url(#ob)"/>
<circle cx="540.3" cy="44.77" r="2.25" fill="url(#ob)"/>
<circle cx="540.5" cy="44.8" r="2.25" fill="url(#ob)"/>
<circle cx="540.7" cy="45.31" r="2.25" fill="url(#ob)"/>
<circle cx="540.9" cy="45.11" r="2.25" fill="url(#ob)"/>
<circle cx="541.1" cy="46.03" r="2.25" fill="url(#ob)"/>
<circle cx="541.3" cy="45.89" r="2.25" fill="url(#ob)"/>
<circle cx="541.5" cy="46.17" r="2.25" fill="url(#ob)"/>
<circle cx="541.7" cy="46.86" r="2.25" fill="url(#ob)"/>
<circle cx="541.9" cy="47.07" r="2.25" fill="url(#ob)"/>
<circle cx="542.1" cy="46.89" r="2.25" fill="url(#ob)"/>
<circle cx="542.3" cy="47.23" r="2.25" fill="url(#ob)"/>
<circle cx="542.5" cy="47.56" r="2.25" fill="url(#ob)"/>
<circle cx="542.7" cy="47.92" r="2.25" fill="url(#ob)"/>
<circle cx="542.9" cy="47.77" r="2.25" fill="url(#ob)"/>
<circle cx="543.1" cy="48.06" r="2.25" fill="url(#ob)"/>
<circle cx="543.3" cy="48.53" r="2.25" fill="url(#ob)"/>
<circle cx="543.5" cy="48.56" r="2.25" fill="url(#ob)"/>
<circle cx="543.7" cy="48.9" r="2.25" fill="url(#ob)"/>
<circle cx="543.9" cy="49.11" r="2.25" fill="url(#ob)"/>
<circle cx="544.1" cy="48.96" r="2.25" fill="url(#ob)"/>
<circle cx="544.3" cy="49.26" r="2.25" fill="url(#ob)"/>
<circle cx="544.5" cy="49.1" r="2.25" fill="url(#ob)"/>
<circle cx="544.7" cy="49.86" r="2.25" fill="url(#ob)"/>
<circle cx="544.9" cy="50.45" r="2.25" fill="url(#ob)"/>
<circle cx="545.1" cy="50.13" r="2.25" fill="url(#ob)"/>
<circle cx="545.3" cy="50.89" r="2.25" fill="url(#ob)"/>
<circle cx="545.5" cy="51.08" r="2.25" fill="url(#ob)"/>
<circle cx="545.7" cy="51.07" r="2.25" fill="url(#ob)"/>
<circle cx="545.9" cy="51.32" r="2.25" fill="url(#ob)"/>
<circle cx="546.1" cy="51.57" r="2.25" fill="url(#ob)"/>
<circle cx="546.3" cy="51.59" r="2.25" fill="url(#ob)"/>
<circle cx="546.5" cy="51.96" r="2.25" fill="url(#ob)"/>
<circle cx="546.7" cy="52.25" r="2.25" fill="url(#ob)"/>
<circle cx="546.9" cy="52.64" r="2.25" fill="url(#ob)"/>
<circle cx="547.1" cy="52.91" r="2.25" fill="url(#ob)"/>
<circle cx="547.3" cy="52.79" r="2.25" fill="url(#ob)"/>
<circle cx="547.5" cy="53.39" r="2.25" fill="url(#ob)"/>
<circle cx="547.7" cy="53.25" r="2.25" fill="url(#ob)"/>
<circle cx="547.9" cy="53.63" r="2.25" fill="url(#ob)"/>
<circle cx="548.1" cy="53.99" r="2.25" fill="url(#ob)"/>
<circle cx="548.3" cy="54.13" r="2.25" fill="url(#ob)"/>
<circle cx="548.5" cy="54.34" r="2.25" fill="url(#ob)"/>
<circle cx="548.7" cy="54.67" r="2.25" fill="url(#ob)"/>
<circle cx="548.9" cy="54.7" r="2.25" fill="url(#ob)"/>
<circle cx="549.1" cy="54.91" r="2.25" fill="url(#ob)"/>
<circle cx="549.3" cy="55.26" r="2.25" fill="url(#ob)"/>
<circle cx="549.5" cy="55.78" r="2.25" fill="url(#ob)"/>
<circle cx="549.7" cy="55.75" r="2.25" fill="url(#ob)"/>
<circle cx="549.9" cy="56.48" r="2.25" fill="url(#ob)"/>
<circle cx="550.1" cy="56.3" r="2.25" fill="url(#ob)"/>
<circle cx="550.3" cy="55.74" r="2.25" fill="url(#ob)"/>
<circle cx="550.5" cy="56.61" r="2.25" fill="url(#ob)"/>
<circle cx="550.7" cy="57.37" r="2.25" fill="url(#ob)"/>
<circle cx="550.9" cy="57.19" r="2.25" fill="url(#ob)"/>
<circle cx="551.1" cy="57.31" r="2.25" fill="url(#ob)"/>
<circle cx="551.3" cy="57.43" r="2.25" fill="url(#ob)"/>
<circle cx="551.5" cy="58.23" r="2.25" fill="url(#ob)"/>
<circle cx="551.7" cy="58.38" r="2.25" fill="url(#ob)"/>
<circle cx="551.9" cy="58.53" r="2.25" fill="url(#ob)"/>
<circle cx="552.1" cy="58.7" r="2.25" fill="url(#ob)"/>
<circle cx="552.3" cy="59.2" r="2.25" fill="url(#ob)"/>
<circle cx="552.5" cy="59.28" r="2.25" fill="url(#ob)"/>
<circle cx="552.7" cy="58.97" r="2.25" fill="url(#ob)"/>
<circle cx="552.9" cy="59.73" r="2.25" fill="url(#ob)"/>
<circle cx="553.1" cy="59.81" r="2.25" fill="url(#ob)"/>
<circle cx="553.3" cy="59.97" r="2.25" fill="url(#ob)"/>
<circle cx="553.5" cy="60.44" r="2.25" fill="url(#ob)"/>
<circle cx="553.7" cy="60.48" r="2.25" fill="url(#ob)"/>
<circle cx="553.9" cy="59.92" r="2.25" fill="url(#ob)"/>
<circle cx="554.1" cy="61.36" r="2.25" fill="url(#ob)"/>
<circle cx="554.3" cy="61.46" r="2.25" fill="url(#ob)"/>
<circle cx="554.5" cy="61.38" r="2.25" fill="url(#ob)"/>
<circle cx="554.7" cy="61.54" r="2.25" fill="url(#ob)"/>
<circle cx="554.9" cy="61.94" r="2.25" fill="url(#ob)"/>
<circle cx="555.1" cy="61.76" r="2.25" fill="url(#ob)"/>
<circle cx="555.3" cy="62.44" r="2.25" fill="url(#ob)"/>
<circle cx="555.5" cy="62.52" r="2.25" fill="url(#ob)"/>
<circle cx="555.7" cy="62.72" r="2.25" fill="url(#ob)"/>
<circle cx="555.9" cy="62.8" r="2.25" fill="url(#ob)"/>
<circle cx="556.1" cy="63.1" r="2.25" fill="url(#ob)"/>
<circle cx="556.3" cy="63.84" r="2.25" fill="url(#ob)"/>
<circle cx="556.5" cy="64.14" r="2.25" fill="url(#ob)"/>
<circle cx="556.7" cy="64.14" r="2.25" fill="url(#ob)"/>
<circle cx="556.9" cy="64.22" r="2.25" fill="url(#ob)"/>
<circle cx="557.1" cy="64.22" r="2.25" fill="url(#ob)"/>
<circle cx="557.3" cy="64.91" r="2.25" fill="url(#ob)"/>
<circle cx="557.5" cy="65.4" r="2.25" fill="url(#ob)"/>
<circle cx="557.7" cy="64.71" r="2.25" fill="url(#ob)"/>
<circle cx="557.9" cy="65.75" r="2.25" fill="url(#ob)"/>
<circle cx="558.1" cy="65.01" r="2.25" fill="url(#ob)"/>
<circle cx="558.3" cy="65.78" r="2.25" fill="url(#ob)"/>
<circle cx="558.5" cy="66.23" r="2.25" fill="url(#ob)"/>
<circle cx="558.7" cy="65.95" r="2.25" fill="url(#ob)"/>
<circle cx="558.9" cy="66.14" r="2.25" fill="url(#ob)"/>
<circle cx="559.1" cy="66.87" r="2.25" fill="url(#ob)"/>
<circle cx="559.3" cy="67.31" r="2.25" fill="url(#ob)"/>
<circle cx="559.5" cy="67.15" r="2.25" fill="url(#ob)"/>
<circle cx="559.7" cy="67.92" r="2.25" fill="url(#ob)"/>
<circle cx="559.9" cy="67.53" r="2.25" fill="url(#ob)"/>
<circle cx="560.1" cy="68.52" r="2.25" fill="url(#ob)"/>
<circle cx="560.3" cy="68.27" r="2.25" fill="url(#ob)"/>
<circle cx="560.5" cy="68.54" r="2.25" fill="url(#ob)"/>
<circle cx="560.7" cy="68.89" r="2.25" fill="url(#ob)"/>
<circle cx="560.9" cy="69.04" r="2.25" fill="url(#ob)"/>
<circle cx="561.1" cy="69.77" r="2.25" fill="url(#ob)"/>
<circle cx="561.3" cy="70.14" r="2.25" fill="url(#ob)"/>
<circle cx="561.5" cy="69.82" r="2.25" fill="url(#ob)"/>
<circle cx="561.7" cy="69.82" r="2.25" fill="url(#ob)"/>
<circle cx="561.9" cy="69.7" r="2.25" fill="url(#ob)"/>
<circle cx="562.1" cy="70.08" r="2.25" fill="url(#ob)"/>
<circle cx="562.3" cy="70.58" r="2.25" fill="url(#ob)"/>
<circle cx="562.5" cy="70.78" r="2.25" fill="url(#ob)"/>
<circle cx="562.7" cy="71.03" r="2.25" fill="url(#ob)"/>
<circle cx="562.9" cy="71.29" r="2.25" fill="url(#ob)"/>
<circle cx="563.1" cy="71.71" r="2.25" fill="url(#ob)"/>
<circle cx="563.3" cy="71.24" r="2.25" fill="url(#ob)"/>
<circle cx="563.5" cy="71.59" r="2.25" fill="url(#ob)"/>
<circle cx="563.7" cy="72.67" r="2.25" fill="url(#ob)"/>
<circle cx="563.9" cy="72.79" r="2.25" fill="url(#ob)"/>
<circle cx="564.1" cy="72.48" r="2.25" fill="url(#ob)"/>
<circle cx="564.3" cy="73.46" r="2.25" fill="url(#ob)"/>
<circle cx="564.5" cy="72.89" r="2.25" fill="url(#ob)"/>
<circle cx="564.7" cy="73.3" r="2.25" fill="url(#ob)"/>
<circle cx="564.9" cy="72.87" r="2.25" fill="url(#ob)"/>
<circle cx="565.1" cy="74.23" r="2.25" fill="url(#ob)"/>
<circle cx="565.3" cy="74.1" r="2.25" fill="url(#ob)"/>
<circle cx="565.5" cy="74.81" r="2.25" fill="url(#ob)"/>
<circle cx="565.7" cy="74.89" r="2.25" fill="url(#ob)"/>
<circle cx="565.9" cy="74.86" r="2.25" fill="url(#ob)"/>
<circle cx="566.1" cy="75.12" r="2.25" fill="url(#ob)"/>
<circle cx="566.3" cy="75.83" r="2.25" fill="url(#ob)"/>
<circle cx="566.5" cy="75.45" r="2.25" fill="url(#ob)"/>
<circle cx="566.7" cy="75.69" r="2.25" fill="url(#ob)"/>
<circle cx="566.9" cy="76.03" r="2.25" fill="url(#ob)"/>
<circle cx="567.1" cy="76.61" r="2.25" fill="url(#ob)"/>
<circle cx="567.3" cy="76.91" r="2.25" fill="url(#ob)"/>
<circle cx="567.5" cy="77.64" r="2.25" fill="url(#ob)"/>
<circle cx="567.7" cy="76.9" r="2.25" fill="url(#ob)"/>
<circle cx="567.9" cy="77.8" r="2.25" fill="url(#ob)"/>
<circle cx="568.1" cy="77.08" r="2.25" fill="url(#ob)"/>
<circle cx="568.3" cy="77.96" r="2.25" fill="url(#ob)"/>
<circle cx="568.5" cy="77.95" r="2.25" fill="url(#ob)"/>
<circle cx="568.7" cy="79.02" r="2.25" fill="url(#ob)"/>
<circle cx="568.9" cy="78.68" r="2.25" fill="url(#ob)"/>
<circle cx="569.1" cy="78.36" r="2.25" fill="url(#ob)"/>
<circle cx="569.3" cy="79.14" r="2.25" fill="url(#ob)"/>
<circle cx="569.5" cy="79.25" r="2.25" fill="url(#ob)"/>
<circle cx="569.7" cy="79.13" r="2.25" fill="url(#ob)"/>
<circle cx="569.9" cy="79.38" r="2.25" fill="url(#ob)"/>
<circle cx="570.1" cy="79.25" r="2.25" fill="url(#ob)"/>
<circle cx="570.3" cy="81.55" r="2.25" fill="url(#ob)"/>
<circle cx="570.5" cy="80.32" r="2.25" fill="url(#ob)"/>
<circle cx="570.7" cy="81.04" r="2.25" fill="url(#ob)"/>
<circle cx="570.9" cy="80.05" r="2.25" fill="url(#ob)"/>
<circle cx="571.1" cy="80.33" r="2.25" fill="url(#ob)"/>
<circle cx="571.3" cy="81.1" r="2.25" fill="url(#ob)"/>
<circle cx="571.5" cy="81.34" r="2.25" fill="url(#ob)"/>
<circle cx="571.7" cy="82.14" r="2.25" fill="url(#ob)"/>
<circle cx="571.9" cy="81.3" r="2.25" fill="url(#ob)"/>
<circle cx="572.1" cy="82.46" r="2.25" fill="url(#ob)"/>
<circle cx="572.3" cy="83.29" r="2.25" fill="url(#ob)"/>
<circle cx="572.5" cy="82.04" r="2.25" fill="url(#ob)"/>
<circle cx="572.7" cy="83.4" r="2.25" fill="url(#ob)"/>
<circle cx="572.9" cy="82.48" r="2.25" fill="url(#ob)"/>
<circle cx="573.1" cy="83.53" r="2.25" fill="url(#ob)"/>
<circle cx="573.3" cy="83.77" r="2.25" fill="url(#ob)"/>
<circle cx="573.5" cy="84.89" r="2.25" fill="url(#ob)"/>
<circle cx="573.7" cy="83.57" r="2.25" fill="url(#ob)"/>
<circle cx="573.9" cy="84.36" r="2.25" fill="url(#ob)"/>
<circle cx="574.1" cy="85.17" r="2.25" fill="url(#ob)"/>
<circle cx="574.3" cy="83.95" r="2.25" fill="url(#ob)"/>
<circle cx="574.5" cy="84.95" r="2.25" fill="url(#ob)"/>
<circle cx="574.7" cy="84.61" r="2.25" fill="url(#ob)"/>
<circle cx="574.9" cy="84.95" r="2.25" fill="url(#ob)"/>
<circle cx="575.1" cy="86.12" r="2.25" fill="url(#ob)"/>
<circle cx="575.3" cy="86.38" r="2.25" fill="url(#ob)"/>
<circle cx="575.5" cy="87.9" r="2.25" fill="url(#ob)"/>
<circle cx="575.7" cy="87.32" r="2.25" fill="url(#ob)"/>
<circle cx="575.9" cy="87.5" r="2.25" fill="url(#ob)"/>
<circle cx="576.1" cy="86.72" r="2.25" fill="url(#ob)"/>
<circle cx="576.3" cy="86.86" r="2.25" fill="url(#ob)"/>
<circle cx="576.5" cy="87.41" r="2.25" fill="url(#ob)"/>
<circle cx="576.7" cy="85.91" r="2.25" fill="url(#ob)"/>
<circle cx="576.9" cy="88.98" r="2.25" fill="url(#ob)"/>
<circle cx="577.1" cy="87.52" r="2.25" fill="url(#ob)"/>
<circle cx="577.3" cy="87.47" r="2.25" fill="url(#ob)"/>
<circle cx="577.5" cy="88.14" r="2.25" fill="url(#ob)"/>
<circle cx="577.7" cy="89.37" r="2.25" fill="url(#ob)"/>
<circle cx="577.9" cy="89.88" r="2.25" fill="url(#ob)"/>
<circle cx="578.1" cy="88.9" r="2.25" fill="url(#ob)"/>
<circle cx="578.3" cy="89.75" r="2.25" fill="url(#ob)"/>
<circle cx="578.5" cy="89.61" r="2.25" fill="url(#ob)"/>
<circle cx="578.7" cy="89.12" r="2.25" fill="url(#ob)"/>
<circle cx="578.9" cy="90.25" r="2.25" fill="url(#ob)"/>
<circle cx="579.1" cy="90.38" r="2.25" fill="url(#ob)"/>
<circle cx="579.3" cy="89.39" r="2.25" fill="url(#ob)"/>
<circle cx="579.5" cy="91.69" r="2.25" fill="url(#ob)"/>
<circle cx="579.7" cy="89.81" r="2.25" fill="url(#ob)"/>
<circle cx="579.9" cy="91.48" r="2.25" fill="url(#ob)"/>
<circle cx="580.1" cy="90.68" r="2.25" fill="url(#ob)"/>
<circle cx="580.3" cy="91.1" r="2.25" fill="url(#ob)"/>
<circle cx="580.5" cy="91.41" r="2.25" fill="url(#ob)"/>
<circle cx="580.7" cy="92.8" r="2.25" fill="url(#ob)"/>
<circle cx="580.9" cy="91.4" r="2.25" fill="url(#ob)"/>
<circle cx="581.1" cy="92.52" r="2.25" fill="url(#ob)"/>
<circle cx="581.3" cy="94.24" r="2.25" fill="url(#ob)"/>
<circle cx="581.5" cy="92.55" r="2.25" fill="url(#ob)"/>
<circle cx="581.7" cy="93.35" r="2.25" fill="url(#ob)"/>
<circle cx="581.9" cy="94.19" r="2.25" fill="url(#ob)"/>
<circle cx="582.1" cy="93.33" r="2.25" fill="url(#ob)"/>
<circle cx="582.3" cy="94.5" r="2.25" fill="url(#ob)"/>
<circle cx="582.5" cy="93.71" r="2.25" fill="url(#ob)"/>
<circle cx="582.7" cy="95.17" r="2.25" fill="url(#ob)"/>
<circle cx="582.9" cy="94.83" r="2.25" fill="url(#ob)"/>
<circle cx="583.1" cy="94.14" r="2.25" fill="url(#ob)"/>
<circle cx="583.3" cy="96.55" r="2.25" fill="url(#ob)"/>
<circle cx="583.5" cy="95.38" r="2.25" fill="url(#ob)"/>
<circle cx="583.7" cy="95.43" r="2.25" fill="url(#ob)"/>
<circle cx="583.9" cy="95.05" r="2.25" fill="url(#ob)"/>
<circle cx="584.1" cy="95.71" r="2.25" fill="url(#ob)"/>
<circle cx="584.3" cy="96.3" r="2.25" fill="url(#ob)"/>
<circle cx="584.5" cy="96.79" r="2.25" fill="url(#ob)"/>
<circle cx="584.7" cy="97.94" r="2.25" fill="url(#ob)"/>
<circle cx="584.9" cy="95.78" r="2.25" fill="url(#ob)"/>
<circle cx="585.1" cy="96.97" r="2.25" fill="url(#ob)"/>
<circle cx="585.3" cy="98.76" r="2.25" fill="url(#ob)"/>
<circle cx="585.5" cy="97.97" r="2.25" fill="url(#ob)"/>
<circle cx="585.7" cy="98.44" r="2.25" fill="url(#ob)"/>
<circle cx="585.9" cy="99.9" r="2.25" fill="url(#ob)"/>
<circle cx="586.1" cy="98.83" r="2.25" fill="url(#ob)"/>
<circle cx="586.3" cy="99.2" r="2.25" fill="url(#ob)"/>
<circle cx="586.5" cy="98.9" r="2.25" fill="url(#ob)"/>
<circle cx="586.7" cy="101.07" r="2.25" fill="url(#ob)"/>
<circle cx="586.9" cy="100.54" r="2.25" fill="url(#ob)"/>
<circle cx="587.1" cy="98.86" r="2.25" fill="url(#ob)"/>
<circle cx="587.3" cy="100.47" r="2.25" fill="url(#ob)"/>
<circle cx="587.5" cy="98.84" r="2.25" fill="url(#ob)"/>
<circle cx="587.7" cy="101.54" r="2.25" fill="url(#ob)"/>
<circle cx="587.9" cy="101.32" r="2.25" fill="url(#ob)"/>
<circle cx="588.1" cy="100.62" r="2.25" fill="url(#ob)"/>
<circle cx="588.3" cy="100.58" r="2.25" fill="url(#ob)"/>
<circle cx="588.5" cy="99.22" r="2.25" fill="url(#ob)"/>
<circle cx="588.7" cy="102.37" r="2.25" fill="url(#ob)"/>
<circle cx="588.9" cy="101.59" r="2.25" fill="url(#ob)"/>
<circle cx="589.1" cy="101.59" r="2.25" fill="url(#ob)"/>
<circle cx="589.3" cy="103.04" r="2.25" fill="url(#ob)"/>
<circle cx="589.5" cy="101.63" r="2.25" fill="url(#ob)"/>
<circle cx="589.7" cy="101.95" r="2.25" fill="url(#ob)"/>
<circle cx="589.9" cy="102.05" r="2.25" fill="url(#ob)"/>
<circle cx="590.1" cy="101.48" r="2.25" fill="url(#ob)"/>
<circle cx="590.3" cy="106.26" r="2.25" fill="url(#ob)"/>
<circle cx="590.5" cy="103.34" r="2.25" fill="url(#ob)"/>
<circle cx="590.7" cy="103.38" r="2.25" fill="url(#ob)"/>
<circle cx="590.9" cy="105.15" r="2.25" fill="url(#ob)"/>
<circle cx="591.1" cy="100.35" r="2.25" fill="url(#ob)"/>
<circle cx="591.3" cy="104.46" r="2.25" fill="url(#ob)"/>
<circle cx="591.5" cy="104.75" r="2.25" fill="url(#ob)"/>
<circle cx="591.7" cy="103.73" r="2.25" fill="url(#ob)"/>
<circle cx="591.9" cy="105.78" r="2.25" fill="url(#ob)"/>
<circle cx="592.1" cy="102.82" r="2.25" fill="url(#ob)"/>
<circle cx="592.3" cy="105.65" r="2.25" fill="url(#ob)"/>
<circle cx="592.5" cy="107.01" r="2.25" fill="url(#ob)"/>
<circle cx="592.7" cy="103.18" r="2.25" fill="url(#ob)"/>
<circle cx="592.9" cy="104.4" r="2.25" fill="url(#ob)"/>
<circle cx="593.1" cy="106.31" r="2.25" fill="url(#ob)"/>
<circle cx="593.3" cy="106.71" r="2.25" fill="url(#ob)"/>
<circle cx="593.5" cy="106.08" r="2.25" fill="url(#ob)"/>
<circle cx="593.7" cy="107.65" r="2.25" fill="url(#ob)"/>
<circle cx="593.9" cy="107.71" r="2.25" fill="url(#ob)"/>
<circle cx="594.1" cy="105.76" r="2.25" fill="url(#ob)"/>
<circle cx="594.3" cy="107.68" r="2.25" fill="url(#ob)"/>
<circle cx="594.5" cy="106.27" r="2.25" fill="url(#ob)"/>
<circle cx="594.7" cy="105.37" r="2.25" fill="url(#ob)"/>
<circle cx="594.9" cy="105.11" r="2.25" fill="url(#ob)"/>
<circle cx="595.1" cy="110.14" r="2.25" fill="url(#ob)"/>
<circle cx="595.3" cy="108.74" r="2.25" fill="url(#ob)"/>
<circle cx="595.5" cy="111.92" r="2.25" fill="url(#ob)"/>
<circle cx="595.7" cy="107.28" r="2.25" fill="url(#ob)"/>
<circle cx="595.9" cy="109.09" r="2.25" fill="url(#ob)"/>
<circle cx="596.1" cy="110.31" r="2.25" fill="url(#ob)"/>
<circle cx="596.3" cy="109.85" r="2.25" fill="url(#ob)"/>
<circle cx="596.5" cy="111.02" r="2.25" fill="url(#ob)"/>
<circle cx="596.7" cy="110.73" r="2.25" fill="url(#ob)"/>
<circle cx="596.9" cy="109.85" r="2.25" fill="url(#ob)"/>
<circle cx="597.1" cy="107.53" r="2.25" fill="url(#ob)"/>
<circle cx="597.3" cy="109.8" r="2.25" fill="url(#ob)"/>
<circle cx="597.5" cy="114.04" r="2.25" fill="url(#ob)"/>
<circle cx="597.7" cy="112.85" r="2.25" fill="url(#ob)"/>
<circle cx="597.9" cy="114.02" r="2.25" fill="url(#ob)"/>
<circle cx="598.1" cy="111.27" r="2.25" fill="url(#ob)"/>
<circle cx="598.3" cy="112.11" r="2.25" fill="url(#ob)"/>
<circle cx="598.5" cy="111.29" r="2.25" fill="url(#ob)"/>
<circle cx="598.7" cy="113.48" r="2.25" fill="url(#ob)"/>
<circle cx="598.9" cy="113.21" r="2.25" fill="url(#ob)"/>
<circle cx="599.1" cy="114.06" r="2.25" fill="url(#ob)"/>
<circle cx="599.3" cy="116.35" r="2.25" fill="url(#ob)"/>
<circle cx="599.5" cy="112.5" r="2.25" fill="url(#ob)"/>
<circle cx="599.7" cy="115.22" r="2.25" fill="url(#ob)"/>
<circle cx="599.9" cy="112.05" r="2.25" fill="url(#ob)"/>
<circle cx="600.1" cy="116.28" r="2.25" fill="url(#ob)"/>
<circle cx="600.3" cy="114" r="2.25" fill="url(#ob)"/>
<circle cx="600.5" cy="114.81" r="2.25" fill="url(#ob)"/>
<circle cx="600.7" cy="115.37" r="2.25" fill="url(#ob)"/>
<circle cx="600.9" cy="118.09" r="2.25" fill="url(#ob)"/>
<circle cx="601.1" cy="115.51" r="2.25" fill="url(#ob)"/>
<circle cx="601.3" cy="114.94" r="2.25" fill="url(#ob)"/>
<circle cx="601.5" cy="113.97" r="2.25" fill="url(#ob)"/>
<circle cx="601.7" cy="116.68" r="2.25" fill="url(#ob)"/>
<circle cx="601.9" cy="114.93" r="2.25" fill="url(#ob)"/>
<circle cx="602.1" cy="115.74" r="2.25" fill="url(#ob)"/>
<circle cx="602.3" cy="116.79" r="2.25" fill="url(#ob)"/>
<circle cx="602.5" cy="118.24" r="2.25" fill="url(#ob)"/>
<circle cx="602.7" cy="115.98" r="2.25" fill="url(#ob)"/>
<circle cx="602.9" cy="118.68" r="2.25" fill="url(#ob)"/>
<circle cx="603.1" cy="120.9" r="2.25" fill="url(#ob)"/>
<circle cx="603.3" cy="115.16" r="2.25" fill="url(#ob)"/>
<circle cx="603.5" cy="120.62" r="2.25" fill="url(#ob)"/>
<circle cx="603.7" cy="122.32" r="2.25" fill="url(#ob)"/>
<circle cx="603.9" cy="117.42" r="2.25" fill="url(#ob)"/>
<circle cx="604.1" cy="119.9" r="2.25" fill="url(#ob)"/>
<circle cx="604.3" cy="116.34" r="2.25" fill="url(#ob)"/>
<circle cx="604.5" cy="119.81" r="2.25" fill="url(#ob)"/>
<circle cx="604.7" cy="118.75" r="2.25" fill="url(#ob)"/>
<circle cx="604.9" cy="120.18" r="2.25" fill="url(#ob)"/>
<circle cx="605.1" cy="118" r="2.25" fill="url(#ob)"/>
<circle cx="605.3" cy="118.38" r="2.25" fill="url(#ob)"/>
<circle cx="605.5" cy="119.32" r="2.25" fill="url(#ob)"/>
<circle cx="605.7" cy="118.99" r="2.25" fill="url(#ob)"/>
<circle cx="605.9" cy="119.38" r="2.25" fill="url(#ob)"/>
<circle cx="606.1" cy="120.42" r="2.25" fill="url(#ob)"/>
<circle cx="606.3" cy="118.77" r="2.25" fill="url(#ob)"/>
<circle cx="606.5" cy="120.94" r="2.25" fill="url(#ob)"/>
<circle cx="606.7" cy="122.44" r="2.25" fill="url(#ob)"/>
<circle cx="606.9" cy="116.83" r="2.25" fill="url(#ob)"/>
<circle cx="607.1" cy="122.27" r="2.25" fill="url(#ob)"/>
<circle cx="607.3" cy="120.49" r="2.25" fill="url(#ob)"/>
<circle cx="607.5" cy="119.89" r="2.25" fill="url(#ob)"/>
<circle cx="607.7" cy="119.6" r="2.25" fill="url(#ob)"/>
<circle cx="607.9" cy="120.85" r="2.25" fill="url(#ob)"/>
<circle cx="608.1" cy="121.27" r="2.25" fill="url(#ob)"/>
<circle cx="608.3" cy="123.84" r="2.25" fill="url(#ob)"/>
<circle cx="608.5" cy="120.52" r="2.25" fill="url(#ob)"/>
<circle cx="608.7" cy="125.81" r="2.25" fill="url(#ob)"/>
<circle cx="608.9" cy="121.89" r="2.25" fill="url(#ob)"/>
<circle cx="609.1" cy="125.46" r="2.25" fill="url(#ob)"/>
<circle cx="609.3" cy="126.59" r="2.25" fill="url(#ob)"/>
<circle cx="609.5" cy="121.59" r="2.25" fill="url(#ob)"/>
<circle cx="609.7" cy="127.03" r="2.25" fill="url(#ob)"/>
<circle cx="609.9" cy="129.83" r="2.25" fill="url(#ob)"/>
<circle cx="610.1" cy="124.04" r="2.25" fill="url(#ob)"/>
<circle cx="610.3" cy="126.65" r="2.25" fill="url(#ob)"/>
<circle cx="610.5" cy="125.23" r="2.25" fill="url(#ob)"/>
<circle cx="610.7" cy="125.96" r="2.25" fill="url(#ob)"/>
<circle cx="610.9" cy="125.56" r="2.25" fill="url(#ob)"/>
<circle cx="611.1" cy="125.04" r="2.25" fill="url(#ob)"/>
<circle cx="611.3" cy="128.2" r="2.25" fill="url(#ob)"/>
<circle cx="611.5" cy="128.82" r="2.25" fill="url(#ob)"/>
<circle cx="611.7" cy="126.93" r="2.25" fill="url(#ob)"/>
<circle cx="611.9" cy="130.84" r="2.25" fill="url(#ob)"/>
<circle cx="612.1" cy="130.04" r="2.25" fill="url(#ob)"/>
<circle cx="612.3" cy="129.33" r="2.25" fill="url(#ob)"/>
<circle cx="612.5" cy="126.05" r="2.25" fill="url(#ob)"/>
<circle cx="612.7" cy="132.78" r="2.25" fill="url(#ob)"/>
<circle cx="612.9" cy="131.58" r="2.25" fill="url(#ob)"/>
<circle cx="613.1" cy="123.08" r="2.25" fill="url(#ob)"/>
<circle cx="613.3" cy="125.9" r="2.25" fill="url(#ob)"/>
<circle cx="613.5" cy="127.71" r="2.25" fill="url(#ob)"/>
<circle cx="613.7" cy="131.55" r="2.25" fill="url(#ob)"/>
<circle cx="613.9" cy="132.56" r="2.25" fill="url(#ob)"/>
<circle cx="614.1" cy="128.83" r="2.25" fill="url(#ob)"/>
<circle cx="614.3" cy="130.44" r="2.25" fill="url(#ob)"/>
<circle cx="614.5" cy="131.84" r="2.25" fill="url(#ob)"/>
<circle cx="614.7" cy="126.88" r="2.25" fill="url(#ob)"/>
<circle cx="614.9" cy="132.01" r="2.25" fill="url(#ob)"/>
<circle cx="615.1" cy="129.85" r="2.25" fill="url(#ob)"/>
<circle cx="615.3" cy="131.38" r="2.25" fill="url(#ob)"/>
<circle cx="615.5" cy="130.97" r="2.25" fill="url(#ob)"/>
<circle cx="615.7" cy="128.13" r="2.25" fill="url(#ob)"/>
<circle cx="615.9" cy="128.83" r="2.25" fill="url(#ob)"/>
<circle cx="616.1" cy="131.86" r="2.25" fill="url(#ob)"/>
<circle cx="616.3" cy="132.31" r="2.25" fill="url(#ob)"/>
<circle cx="616.5" cy="131.44" r="2.25" fill="url(#ob)"/>
<circle cx="616.7" cy="135.33" r="2.25" fill="url(#ob)"/>
<circle cx="616.9" cy="131.6" r="2.25" fill="url(#ob)"/>
<circle cx="617.1" cy="129.41" r="2.25" fill="url(#ob)"/>
<circle cx="617.3" cy="132.05" r="2.25" fill="url(#ob)"/>
<circle cx="617.5" cy="132.74" r="2.25" fill="url(#ob)"/>
<circle cx="617.7" cy="133.08" r="2.25" fill="url(#ob)"/>
<circle cx="617.9" cy="136.98" r="2.25" fill="url(#ob)"/>
<circle cx="618.1" cy="135.34" r="2.25" fill="url(#ob)"/>
<circle cx="618.3" cy="137.13" r="2.25" fill="url(#ob)"/>
<circle cx="618.5" cy="136.11" r="2.25" fill="url(#ob)"/>
<circle cx="618.7" cy="134.04" r="2.25" fill="url(#ob)"/>
<circle cx="618.9" cy="137.77" r="2.25" fill="url(#ob)"/>
<circle cx="619.1" cy="134.18" r="2.25" fill="url(#ob)"/>
<circle cx="619.3" cy="135.89" r="2.25" fill="url(#ob)"/>
<circle cx="619.5" cy="132.41" r="2.25" fill="url(#ob)"/>
<circle cx="619.7" cy="135.89" r="2.25" fill="url(#ob)"/>
<circle cx="619.9" cy="134.83" r="2.25" fill="url(#ob)"/>
<circle cx="620.1" cy="137.14" r="2.25" fill="url(#ob)"/>
<circle cx="620.3" cy="141.75" r="2.25" fill="url(#ob)"/>
<circle cx="620.5" cy="143.7" r="2.25" fill="url(#ob)"/>
<circle cx="620.7" cy="139.82" r="2.25" fill="url(#ob)"/>
<circle cx="620.9" cy="136.82" r="2.25" fill="url(#ob)"/>
<circle cx="621.1" cy="139.7" r="2.25" fill="url(#ob)"/>
<circle cx="621.3" cy="138.07" r="2.25" fill="url(#ob)"/>
<circle cx="621.5" cy="135.66" r="2.25" fill="url(#ob)"/>
<circle cx="621.7" cy="137.6" r="2.25" fill="url(#ob)"/>
<circle cx="621.9" cy="137.22" r="2.25" fill="url(#ob)"/>
<circle cx="622.1" cy="136.3" r="2.25" fill="url(#ob)"/>
<circle cx="622.3" cy="142.92" r="2.25" fill="url(#ob)"/>
<circle cx="622.5" cy="136.92" r="2.25" fill="url(#ob)"/>
<circle cx="622.7" cy="137.27" r="2.25" fill="url(#ob)"/>
<circle cx="622.9" cy="141.44" r="2.25" fill="url(#ob)"/>
<circle cx="623.1" cy="137.04" r="2.25" fill="url(#ob)"/>
<circle cx="623.3" cy="135.73" r="2.25" fill="url(#ob)"/>
<circle cx="623.5" cy="136.93" r="2.25" fill="url(#ob)"/>
<circle cx="623.7" cy="141.63" r="2.25" fill="url(#ob)"/>
<circle cx="623.9" cy="141.5" r="2.25" fill="url(#ob)"/>
<circle cx="624.1" cy="141.47" r="2.25" fill="url(#ob)"/>
<circle cx="624.3" cy="139.07" r="2.25" fill="url(#ob)"/>
<circle cx="624.5" cy="137.74" r="2.25" fill="url(#ob)"/>
<circle cx="624.7" cy="144.26" r="2.25" fill="url(#ob)"/>
<circle cx="624.9" cy="136.28" r="2.25" fill="url(#ob)"/>
<circle cx="625.1" cy="140.81" r="2.25" fill="url(#ob)"/>
<circle cx="625.3" cy="137.1" r="2.25" fill="url(#ob)"/>
<circle cx="625.5" cy="140.56" r="2.25" fill="url(#ob)"/>
<circle cx="625.7" cy="141.67" r="2.25" fill="url(#ob)"/>
<circle cx="625.9" cy="146.85" r="2.25" fill="url(#ob)"/>
<circle cx="626.1" cy="132.31" r="2.25" fill="url(#ob)"/>
<circle cx="626.3" cy="147.85" r="2.25" fill="url(#ob)"/>
<circle cx="626.5" cy="139.88" r="2.25" fill="url(#ob)"/>
<circle cx="626.7" cy="144.42" r="2.25" fill="url(#ob)"/>
<circle cx="626.9" cy="146.53" r="2.25" fill="url(#ob)"/>
<circle cx="627.1" cy="140.95" r="2.25" fill="url(#ob)"/>
<circle cx="627.3" cy="143.68" r="2.25" fill="url(#ob)"/>
<circle cx="627.5" cy="146.08" r="2.25" fill="url(#ob)"/>
<circle cx="627.7" cy="143.99" r="2.25" fill="url(#ob)"/>
<circle cx="627.9" cy="141.89" r="2.25" fill="url(#ob)"/>
<circle cx="628.1" cy="145.62" r="2.25" fill="url(#ob)"/>
<circle cx="628.3" cy="145.55" r="2.25" fill="url(#ob)"/>
<circle cx="628.5" cy="139.58" r="2.25" fill="url(#ob)"/>
<circle cx="628.7" cy="150.83" r="2.25" fill="url(#ob)"/>
<circle cx="628.9" cy="146.68" r="2.25" fill="url(#ob)"/>
<circle cx="629.1" cy="136.55" r="2.25" fill="url(#ob)"/>
<circle cx="629.3" cy="142.98" r="2.25" fill="url(#ob)"/>
<circle cx="629.5" cy="153.27" r="2.25" fill="url(#ob)"/>
<circle cx="629.7" cy="153" r="2.25" fill="url(#ob)"/>
<circle cx="629.9" cy="148" r="2.25" fill="url(#ob)"/>
<circle cx="630.1" cy="140.39" r="2.25" fill="url(#ob)"/>
<circle cx="630.3" cy="146.41" r="2.25" fill="url(#ob)"/>
<circle cx="630.5" cy="151.88" r="2.25" fill="url(#ob)"/>
<circle cx="630.7" cy="149.42" r="2.25" fill="url(#ob)"/>
<circle cx="630.9" cy="146.68" r="2.25" fill="url(#ob)"/>
<circle cx="631.1" cy="145.23" r="2.25" fill="url(#ob)"/>
<circle cx="631.3" cy="151.89" r="2.25" fill="url(#ob)"/>
<circle cx="631.5" cy="147.83" r="2.25" fill="url(#ob)"/>
<circle cx="631.7" cy="150.28" r="2.25" fill="url(#ob)"/>
<circle cx="631.9" cy="151.22" r="2.25" fill="url(#ob)"/>
<circle cx="632.1" cy="156.28" r="2.25" fill="url(#ob)"/>
<circle cx="632.3" cy="150.38" r="2.25" fill="url(#ob)"/>
<circle cx="632.5" cy="150.93" r="2.25" fill="url(#ob)"/>
<circle cx="632.7" cy="142.41" r="2.25" fill="url(#ob)"/>
<circle cx="632.9" cy="155.04" r="2.25" fill="url(#ob)"/>
<circle cx="633.1" cy="154.32" r="2.25" fill="url(#ob)"/>
<circle cx="633.3" cy="150.65" r="2.25" fill="url(#ob)"/>
<circle cx="633.5" cy="141.04" r="2.25" fill="url(#ob)"/>
<circle cx="633.7" cy="148.69" r="2.25" fill="url(#ob)"/>
<circle cx="633.9" cy="151.7" r="2.25" fill="url(#ob)"/>
<circle cx="634.1" cy="160.85" r="2.25" fill="url(#ob)"/>
<circle cx="634.3" cy="154.43" r="2.25" fill="url(#ob)"/>
<circle cx="634.5" cy="155.57" r="2.25" fill="url(#ob)"/>
<circle cx="634.7" cy="155.92" r="2.25" fill="url(#ob)"/>
<circle cx="634.9" cy="158.47" r="2.25" fill="url(#ob)"/>
<circle cx="635.1" cy="147.57" r="2.25" fill="url(#ob)"/>
<circle cx="635.3" cy="149.05" r="2.25" fill="url(#ob)"/>
<circle cx="635.5" cy="147.75" r="2.25" fill="url(#ob)"/>
<circle cx="635.7" cy="152.04" r="2.25" fill="url(#ob)"/>
<circle cx="635.9" cy="151.93" r="2.25" fill="url(#ob)"/>
<circle cx="636.1" cy="154.25" r="2.25" fill="url(#ob)"/>
<circle cx="636.3" cy="149.24" r="2.25" fill="url(#ob)"/>
<circle cx="636.5" cy="154.64" r="2.25" fill="url(#ob)"/>
<circle cx="636.7" cy="150.44" r="2.25" fill="url(#ob)"/>
<circle cx="636.9" cy="164.58" r="2.25" fill="url(#ob)"/>
<circle cx="637.1" cy="152.37" r="2.25" fill="url(#ob)"/>
<circle cx="637.3" cy="167.16" r="2.25" fill="url(#ob)"/>
<circle cx="637.5" cy="163.08" r="2.25" fill="url(#ob)"/>
<circle cx="637.7" cy="149.8" r="2.25" fill="url(#ob)"/>
<circle cx="637.9" cy="160.33" r="2.25" fill="url(#ob)"/>
<circle cx="638.1" cy="158.89" r="2.25" fill="url(#ob)"/>
<circle cx="638.3" cy="148.75" r="2.25" fill="url(#ob)"/>
<circle cx="638.5" cy="159.35" r="2.25" fill="url(#ob)"/>
<circle cx="638.7" cy="156.18" r="2.25" fill="url(#ob)"/>
<circle cx="638.9" cy="158.54" r="2.25" fill="url(#ob)"/>
<circle cx="639.1" cy="152.86" r="2.25" fill="url(#ob)"/>
<circle cx="639.3" cy="156.97" r="2.25" fill="url(#ob)"/>
<circle cx="639.5" cy="159.54" r="2.25" fill="url(#ob)"/>
<circle cx="639.7" cy="156.81" r="2.25" fill="url(#ob)"/>
<circle cx="639.9" cy="154.89" r="2.25" fill="url(#ob)"/>
<circle cx="640.1" cy="157.32" r="2.25" fill="url(#ob)"/>
<circle cx="640.3" cy="153.31" r="2.25" fill="url(#ob)"/>
<circle cx="640.5" cy="160.15" r="2.25" fill="url(#ob)"/>
<circle cx="640.7" cy="145.47" r="2.25" fill="url(#ob)"/>
<circle cx="640.9" cy="166.46" r="2.25" fill="url(#ob)"/>
<circle cx="641.1" cy="159.18" r="2.25" fill="url(#ob)"/>
<circle cx="641.3" cy="161.47" r="2.25" fill="url(#ob)"/>
<circle cx="641.5" cy="163.62" r="2.25" fill="url(#ob)"/>
<circle cx="641.7" cy="152.76" r="2.25" fill="url(#ob)"/>
<circle cx="641.9" cy="171.5" r="2.25" fill="url(#ob)"/>
<circle cx="642.1" cy="153.64" r="2.25" fill="url(#ob)"/>
<circle cx="642.3" cy="162.25" r="2.25" fill="url(#ob)"/>
<circle cx="642.5" cy="161.65" r="2.25" fill="url(#ob)"/>
<circle cx="642.7" cy="167.15" r="2.25" fill="url(#ob)"/>
<circle cx="642.9" cy="160.14" r="2.25" fill="url(#ob)"/>
<circle cx="643.1" cy="152.61" r="2.25" fill="url(#ob)"/>
<circle cx="643.3" cy="162.26" r="2.25" fill="url(#ob)"/>
<circle cx="643.5" cy="146.97" r="2.25" fill="url(#ob)"/>
<circle cx="643.7" cy="159.65" r="2.25" fill="url(#ob)"/>
<circle cx="643.9" cy="158.34" r="2.25" fill="url(#ob)"/>
<circle cx="644.1" cy="169.83" r="2.25" fill="url(#ob)"/>
<circle cx="644.3" cy="159.62" r="2.25" fill="url(#ob)"/>
<circle cx="644.5" cy="158.78" r="2.25" fill="url(#ob)"/>
<circle cx="644.7" cy="157.16" r="2.25" fill="url(#ob)"/>
<circle cx="644.9" cy="156.72" r="2.25" fill="url(#ob)"/>
<circle cx="645.1" cy="158.58" r="2.25" fill="url(#ob)"/>
<circle cx="645.3" cy="165.4" r="2.25" fill="url(#ob)"/>
<circle cx="645.5" cy="154.37" r="2.25" fill="url(#ob)"/>
<circle cx="645.7" cy="160.98" r="2.25" fill="url(#ob)"/>
<circle cx="645.9" cy="153.72" r="2.25" fill="url(#ob)"/>
<circle cx="646.1" cy="161.5" r="2.25" fill="url(#ob)"/>
<circle cx="646.3" cy="163.61" r="2.25" fill="url(#ob)"/>
<circle cx="646.5" cy="155.39" r="2.25" fill="url(#ob)"/>
<circle cx="646.7" cy="159.47" r="2.25" fill="url(#ob)"/>
<circle cx="646.9" cy="163.69" r="2.25" fill="url(#ob)"/>
<circle cx="647.1" cy="167.89" r="2.25" fill="url(#ob)"/>
<circle cx="647.3" cy="169.15" r="2.25" fill="url(#ob)"/>
<circle cx="647.5" cy="162.8" r="2.25" fill="url(#ob)"/>
<circle cx="647.7" cy="157.46" r="2.25" fill="url(#ob)"/>
<circle cx="647.9" cy="153.7" r="2.25" fill="url(#ob)"/>
<circle cx="648.1" cy="168.77" r="2.25" fill="url(#ob)"/>
<circle cx="648.3" cy="172.79" r="2.25" fill="url(#ob)"/>
<circle cx="648.5" cy="166.51" r="2.25" fill="url(#ob)"/>
<circle cx="648.7" cy="174.25" r="2.25" fill="url(#ob)"/>
<circle cx="648.9" cy="161.62" r="2.25" fill="url(#ob)"/>
<circle cx="649.1" cy="162.14" r="2.25" fill="url(#ob)"/>
<circle cx="649.3" cy="174.86" r="2.25" fill="url(#ob)"/>
<circle cx="649.5" cy="158.44" r="2.25" fill="url(#ob)"/>
<circle cx="649.7" cy="169" r="2.25" fill="url(#ob)"/>
<circle cx="649.9" cy="167.75" r="2.25" fill="url(#ob)"/>
<circle cx="650.1" cy="166.35" r="2.25" fill="url(#ob)"/>
<circle cx="650.3" cy="176.75" r="2.25" fill="url(#ob)"/>
<circle cx="650.5" cy="159.77" r="2.25" fill="url(#ob)"/>
<circle cx="650.7" cy="162.8" r="2.25" fill="url(#ob)"/>
<circle cx="650.9" cy="151.98" r="2.25" fill="url(#ob)"/>
<circle cx="651.1" cy="158.9" r="2.25" fill="url(#ob)"/>
<circle cx="651.3" cy="162.49" r="2.25" fill="url(#ob)"/>
<circle cx="651.5" cy="163.39" r="2.25" fill="url(#ob)"/>
<circle cx="651.7" cy="164.69" r="2.25" fill="url(#ob)"/>
<circle cx="651.9" cy="168.09" r="2.25" fill="url(#ob)"/>
<circle cx="652.1" cy="161.77" r="2.25" fill="url(#ob)"/>
<circle cx="652.3" cy="153.14" r="2.25" fill="url(#ob)"/>
<circle cx="652.5" cy="167.3" r="2.25" fill="url(#ob)"/>
<circle cx="652.7" cy="169.14" r="2.25" fill="url(#ob)"/>
<circle cx="652.9" cy="158.68" r="2.25" fill="url(#ob)"/>
<circle cx="653.1" cy="161.21" r="2.25" fill="url(#ob)"/>
<circle cx="653.3" cy="178.22" r="2.25" fill="url(#ob)"/>
<circle cx="653.5" cy="173.4" r="2.25" fill="url(#ob)"/>
<circle cx="653.7" cy="173.87" r="2.25" fill="url(#ob)"/>
<circle cx="653.9" cy="171.13" r="2.25" fill="url(#ob)"/>
<circle cx="654.1" cy="167.69" r="2.25" fill="url(#ob)"/>
<circle cx="654.3" cy="163.34" r="2.25" fill="url(#ob)"/>
<circle cx="654.5" cy="170.65" r="2.25" fill="url(#ob)"/>
<circle cx="654.7" cy="165.53" r="2.25" fill="url(#ob)"/>
<circle cx="654.9" cy="163.96" r="2.25" fill="url(#ob)"/>
<circle cx="655.1" cy="166.89" r="2.25" fill="url(#ob)"/>
<circle cx="655.3" cy="166.48" r="2.25" fill="url(#ob)"/>
<circle cx="655.5" cy="173.07" r="2.25" fill="url(#ob)"/>
<circle cx="655.7" cy="160.64" r="2.25" fill="url(#ob)"/>
<circle cx="656.1" cy="160.41" r="2.25" fill="url(#ob)"/>
<circle cx="656.3" cy="164.39" r="2.25" fill="url(#ob)"/>
<circle cx="656.5" cy="173.74" r="2.25" fill="url(#ob)"/>
<circle cx="656.7" cy="161.7" r="2.25" fill="url(#ob)"/>
<circle cx="656.9" cy="164.16" r="2.25" fill="url(#ob)"/>
<circle cx="657.1" cy="167.68" r="2.25" fill="url(#ob)"/>
<circle cx="657.3" cy="147.31" r="2.25" fill="url(#ob)"/>
<circle cx="657.5" cy="164.13" r="2.25" fill="url(#ob)"/>
<circle cx="657.7" cy="161.05" r="2.25" fill="url(#ob)"/>
<circle cx="657.9" cy="166.01" r="2.25" fill="url(#ob)"/>
<circle cx="658.1" cy="171.18" r="2.25" fill="url(#ob)"/>
<circle cx="658.3" cy="172.2" r="2.25" fill="url(#ob)"/>
<circle cx="658.5" cy="178.18" r="2.25" fill="url(#ob)"/>
<circle cx="658.7" cy="177.84" r="2.25" fill="url(#ob)"/>
<circle cx="658.9" cy="175.09" r="2.25" fill="url(#ob)"/>
<circle cx="659.1" cy="167.75" r="2.25" fill="url(#ob)"/>
<circle cx="659.3" cy="175.28" r="2.25" fill="url(#ob)"/>
<circle cx="659.5" cy="161.25" r="2.25" fill="url(#ob)"/>
<circle cx="659.7" cy="167.52" r="2.25" fill="url(#ob)"/>
<circle cx="659.9" cy="178.21" r="2.25" fill="url(#ob)"/>
<circle cx="660.1" cy="173.78" r="2.25" fill="url(#ob)"/>
<circle cx="660.3" cy="158.64" r="2.25" fill="url(#ob)"/>
<circle cx="660.5" cy="164.28" r="2.25" fill="url(#ob)"/>
<circle cx="660.7" cy="174.76" r="2.25" fill="url(#ob)"/>
<circle cx="660.9" cy="172.82" r="2.25" fill="url(#ob)"/>
<circle cx="661.1" cy="176.1" r="2.25" fill="url(#ob)"/>
<circle cx="661.3" cy="156.28" r="2.25" fill="url(#ob)"/>
<circle cx="661.5" cy="159.83" r="2.25" fill="url(#ob)"/>
<circle cx="661.7" cy="166.99" r="2.25" fill="url(#ob)"/>
<circle cx="661.9" cy="161.97" r="2.25" fill="url(#ob)"/>
<circle cx="662.1" cy="168.65" r="2.25" fill="url(#ob)"/>
<circle cx="662.3" cy="169.02" r="2.25" fill="url(#ob)"/>
<circle cx="662.5" cy="171.43" r="2.25" fill="url(#ob)"/>
<circle cx="662.7" cy="168.13" r="2.25" fill="url(#ob)"/>
<circle cx="662.9" cy="173.08" r="2.25" fill="url(#ob)"/>
<circle cx="663.1" cy="174.69" r="2.25" fill="url(#ob)"/>
<circle cx="663.3" cy="170.37" r="2.25" fill="url(#ob)"/>
<circle cx="663.5" cy="160.76" r="2.25" fill="url(#ob)"/>
<circle cx="663.7" cy="178.58" r="2.25" fill="url(#ob)"/>
<circle cx="663.9" cy="171.09" r="2.25" fill="url(#ob)"/>
<circle cx="664.1" cy="172.64" r="2.25" fill="url(#ob)"/>
<circle cx="664.3" cy="170.95" r="2.25" fill="url(#ob)"/>
<circle cx="664.5" cy="158.47" r="2.25" fill="url(#ob)"/>
<circle cx="664.7" cy="173.99" r="2.25" fill="url(#ob)"/>
<circle cx="664.9" cy="165.38" r="2.25" fill="url(#ob)"/>
<circle cx="665.1" cy="161.48" r="2.25" fill="url(#ob)"/>
<circle cx="665.3" cy="179.23" r="2.25" fill="url(#ob)"/>
<circle cx="665.5" cy="168.1" r="2.25" fill="url(#ob)"/>
<circle cx="665.7" cy="172.37" r="2.25" fill="url(#ob)"/>
<circle cx="665.9" cy="176.71" r="2.25" fill="url(#ob)"/>
<circle cx="666.1" cy="181.92" r="2.25" fill="url(#ob)"/>
<circle cx="666.3" cy="157.81" r="2.25" fill="url(#ob)"/>
<circle cx="666.5" cy="165.44" r="2.25" fill="url(#ob)"/>
<circle cx="666.7" cy="175.53" r="2.25" fill="url(#ob)"/>
<circle cx="666.9" cy="166.14" r="2.25" fill="url(#ob)"/>
<circle cx="667.1" cy="147.94" r="2.25" fill="url(#ob)"/>
<circle cx="667.3" cy="172.03" r="2.25" fill="url(#ob)"/>
<circle cx="667.5" cy="172.69" r="2.25" fill="url(#ob)"/>
<circle cx="667.7" cy="176.79" r="2.25" fill="url(#ob)"/>
<circle cx="667.9" cy="172.89" r="2.25" fill="url(#ob)"/>
<circle cx="668.1" cy="168.25" r="2.25" fill="url(#ob)"/>
<circle cx="668.3" cy="172.96" r="2.25" fill="url(#ob)"/>
<circle cx="668.5" cy="171.29" r="2.25" fill="url(#ob)"/>
<circle cx="668.7" cy="168.06" r="2.25" fill="url(#ob)"/>
<circle cx="668.9" cy="173.51" r="2.25" fill="url(#ob)"/>
<circle cx="669.1" cy="174.3" r="2.25" fill="url(#ob)"/>
<circle cx="669.3" cy="164.74" r="2.25" fill="url(#ob)"/>
<circle cx="669.5" cy="179.2" r="2.25" fill="url(#ob)"/>
<circle cx="669.7" cy="177.89" r="2.25" fill="url(#ob)"/>
<circle cx="669.9" cy="177.69" r="2.25" fill="url(#ob)"/>
<circle cx="670.1" cy="152.87" r="2.25" fill="url(#ob)"/>
<circle cx="670.3" cy="173.14" r="2.25" fill="url(#ob)"/>
<circle cx="670.5" cy="171.52" r="2.25" fill="url(#ob)"/>
<circle cx="670.7" cy="165.42" r="2.25" fill="url(#ob)"/>
<circle cx="670.9" cy="176.66" r="2.25" fill="url(#ob)"/>
<circle cx="671.1" cy="162.04" r="2.25" fill="url(#ob)"/>
<circle cx="671.3" cy="181.41" r="2.25" fill="url(#ob)"/>
<circle cx="671.5" cy="175.54" r="2.25" fill="url(#ob)"/>
<circle cx="671.7" cy="169.34" r="2.25" fill="url(#ob)"/>
<circle cx="671.9" cy="183.02" r="2.25" fill="url(#ob)"/>
<circle cx="672.1" cy="176.32" r="2.25" fill="url(#ob)"/>
<circle cx="672.3" cy="175.51" r="2.25" fill="url(#ob)"/>
<circle cx="672.5" cy="164.06" r="2.25" fill="url(#ob)"/>
<circle cx="672.7" cy="177.03" r="2.25" fill="url(#ob)"/>
<circle cx="673.1" cy="181.26" r="2.25" fill="url(#ob)"/>
<circle cx="673.3" cy="164.47" r="2.25" fill="url(#ob)"/>
<circle cx="673.9" cy="179.77" r="2.25" fill="url(#ob)"/>
<circle cx="674.1" cy="171.17" r="2.25" fill="url(#ob)"/>
<circle cx="674.3" cy="163.37" r="2.25" fill="url(#ob)"/>
<circle cx="674.5" cy="167.62" r="2.25" fill="url(#ob)"/>
<circle cx="674.7" cy="170.02" r="2.25" fill="url(#ob)"/>
<circle cx="674.9" cy="176.1" r="2.25" fill="url(#ob)"/>
<circle cx="675.1" cy="178.14" r="2.25" fill="url(#ob)"/>
<circle cx="675.3" cy="169.08" r="2.25" fill="url(#ob)"/>
<circle cx="675.5" cy="162.84" r="2.25" fill="url(#ob)"/>
<circle cx="675.7" cy="171.54" r="2.25" fill="url(#ob)"/>
<circle cx="675.9" cy="165.15" r="2.25" fill="url(#ob)"/>
<polyline points="521.7,22.1 522.6,22.5 523.5,23.6 524.5,25.2 540,44.4 553.3,60 600,114.9 640,160.9 652,173.4 663.3,183.3" fill="none" stroke="#b3d6f0" stroke-width="1.6" stroke-linejoin="round" />
<rect x="509" y="7.4" width="167.3" height="175.9" fill="none" stroke="#000" stroke-width="1.2"/>
<line x1="509" y1="7.4" x2="509" y2="183.3" stroke="#7a7a7a" stroke-width="1.4" />
<line x1="506" y1="23.3" x2="509" y2="23.3" stroke="#000" stroke-width="1" />
<text x="503.4" y="26.9" font-size="9.6" text-anchor="end" font-weight="normal" font-family="Liberation Sans">10<tspan font-size="6.7" dy="-4.2">0</tspan></text>
<line x1="507.4" y1="60.56" x2="509" y2="60.56" stroke="#000" stroke-width="0.8" />
<line x1="507.4" y1="51.17" x2="509" y2="51.17" stroke="#000" stroke-width="0.8" />
<line x1="507.4" y1="44.51" x2="509" y2="44.51" stroke="#000" stroke-width="0.8" />
<line x1="507.4" y1="39.34" x2="509" y2="39.34" stroke="#000" stroke-width="0.8" />
<line x1="507.4" y1="35.12" x2="509" y2="35.12" stroke="#000" stroke-width="0.8" />
<line x1="507.4" y1="31.56" x2="509" y2="31.56" stroke="#000" stroke-width="0.8" />
<line x1="507.4" y1="28.47" x2="509" y2="28.47" stroke="#000" stroke-width="0.8" />
<line x1="507.4" y1="25.74" x2="509" y2="25.74" stroke="#000" stroke-width="0.8" />
<line x1="506" y1="76.6" x2="509" y2="76.6" stroke="#000" stroke-width="1" />
<text x="503.4" y="80.2" font-size="9.6" text-anchor="end" font-weight="normal" font-family="Liberation Sans">10<tspan font-size="6.7" dy="-4.2">-1</tspan></text>
<line x1="507.4" y1="113.86" x2="509" y2="113.86" stroke="#000" stroke-width="0.8" />
<line x1="507.4" y1="104.47" x2="509" y2="104.47" stroke="#000" stroke-width="0.8" />
<line x1="507.4" y1="97.81" x2="509" y2="97.81" stroke="#000" stroke-width="0.8" />
<line x1="507.4" y1="92.64" x2="509" y2="92.64" stroke="#000" stroke-width="0.8" />
<line x1="507.4" y1="88.42" x2="509" y2="88.42" stroke="#000" stroke-width="0.8" />
<line x1="507.4" y1="84.86" x2="509" y2="84.86" stroke="#000" stroke-width="0.8" />
<line x1="507.4" y1="81.77" x2="509" y2="81.77" stroke="#000" stroke-width="0.8" />
<line x1="507.4" y1="79.04" x2="509" y2="79.04" stroke="#000" stroke-width="0.8" />
<line x1="506" y1="129.9" x2="509" y2="129.9" stroke="#000" stroke-width="1" />
<text x="503.4" y="133.5" font-size="9.6" text-anchor="end" font-weight="normal" font-family="Liberation Sans">10<tspan font-size="6.7" dy="-4.2">-2</tspan></text>
<line x1="507.4" y1="167.16" x2="509" y2="167.16" stroke="#000" stroke-width="0.8" />
<line x1="507.4" y1="157.77" x2="509" y2="157.77" stroke="#000" stroke-width="0.8" />
<line x1="507.4" y1="151.11" x2="509" y2="151.11" stroke="#000" stroke-width="0.8" />
<line x1="507.4" y1="145.94" x2="509" y2="145.94" stroke="#000" stroke-width="0.8" />
<line x1="507.4" y1="141.72" x2="509" y2="141.72" stroke="#000" stroke-width="0.8" />
<line x1="507.4" y1="138.16" x2="509" y2="138.16" stroke="#000" stroke-width="0.8" />
<line x1="507.4" y1="135.07" x2="509" y2="135.07" stroke="#000" stroke-width="0.8" />
<line x1="507.4" y1="132.34" x2="509" y2="132.34" stroke="#000" stroke-width="0.8" />
<line x1="506" y1="183.2" x2="509" y2="183.2" stroke="#000" stroke-width="1" />
<text x="503.4" y="186.8" font-size="9.6" text-anchor="end" font-weight="normal" font-family="Liberation Sans">10<tspan font-size="6.7" dy="-4.2">-3</tspan></text>
<line x1="509" y1="183.3" x2="509" y2="186.3" stroke="#000" stroke-width="1" />
<text x="509" y="196.6" font-size="10" font-weight="normal" text-anchor="middle" fill="#000" font-family="Liberation Sans" >0</text>
<line x1="536.88" y1="183.3" x2="536.88" y2="184.9" stroke="#000" stroke-width="0.8" />
<line x1="564.77" y1="183.3" x2="564.77" y2="186.3" stroke="#000" stroke-width="1" />
<text x="564.77" y="196.6" font-size="10" font-weight="normal" text-anchor="middle" fill="#000" font-family="Liberation Sans" >20</text>
<line x1="592.65" y1="183.3" x2="592.65" y2="184.9" stroke="#000" stroke-width="0.8" />
<line x1="620.53" y1="183.3" x2="620.53" y2="186.3" stroke="#000" stroke-width="1" />
<text x="620.53" y="196.6" font-size="10" font-weight="normal" text-anchor="middle" fill="#000" font-family="Liberation Sans" >40</text>
<line x1="648.42" y1="183.3" x2="648.42" y2="184.9" stroke="#000" stroke-width="0.8" />
<line x1="676.3" y1="183.3" x2="676.3" y2="186.3" stroke="#000" stroke-width="1" />
<text x="676.3" y="196.6" font-size="10" font-weight="normal" text-anchor="middle" fill="#000" font-family="Liberation Sans" >60</text>
<text x="593.2" y="207.6" font-size="10.6" font-weight="bold" text-anchor="middle" fill="#000" font-family="Liberation Sans" >Time (ns)</text>
<text transform="translate(483.5,139.3) rotate(-90)" font-size="10.4" font-weight="bold" text-anchor="start" font-family="Liberation Sans">Intensity (arb. units)</text>
<line x1="607" y1="17.5" x2="627" y2="17.5" stroke="#7f7f7f" stroke-width="1.2" />
<circle cx="617" cy="17.5" r="1.9" fill="#8a8a8a"/><circle cx="616.6" cy="17.1" r="0.7" fill="#ddd"/>
<line x1="607" y1="28.2" x2="627" y2="28.2" stroke="#d97816" stroke-width="1.2" />
<circle cx="617" cy="28.2" r="2.25" fill="url(#ob)"/>
<line x1="607" y1="39.5" x2="627" y2="39.5" stroke="#b3d6f0" stroke-width="1" />
<text x="630.3" y="20.8" font-size="9" font-weight="normal" text-anchor="start" fill="#000" font-family="Liberation Sans" >IRF</text>
<text x="630.3" y="31.6" font-size="8.9" font-weight="normal" text-anchor="start" fill="#000" font-family="Liberation Sans" >BTD-HeBr</text>
<text x="630.3" y="42.8" font-size="9" font-weight="normal" text-anchor="start" fill="#000" font-family="Liberation Sans" >Fitted line</text>
<text x="562.8" y="58.6" font-size="9.6" font-weight="normal" text-anchor="start" fill="#000" font-family="Liberation Sans" >X-ray pulse excitation</text>
<text x="562.5" y="157.2" font-size="9.6" font-family="Liberation Sans"><tspan font-family="Liberation Serif" font-size="10">τ</tspan> = 4.63 ns</text>
<text x="16" y="229" font-size="11" font-weight="bold" text-anchor="start" fill="#000" font-family="Liberation Sans" >d</text>
<line x1="58" y1="385" x2="194.5" y2="243" stroke="#d9832b" stroke-width="1.5" />
<line x1="46" y1="364" x2="213.7" y2="364" stroke="#222" stroke-width="1.6" stroke-dasharray="5.5,4"/>
<defs><radialGradient id="ball" cx="0.4" cy="0.36" r="0.66"><stop offset="0" stop-color="#ffffff"/><stop offset="0.18" stop-color="#f6c48c"/><stop offset="0.42" stop-color="#dd7d16"/><stop offset="1" stop-color="#b9600a"/></radialGradient></defs>
<circle cx="58" cy="385.3" r="2.9" fill="url(#ball)"/>
<circle cx="59" cy="380.8" r="2.9" fill="url(#ball)"/>
<circle cx="58.3" cy="384.5" r="2.9" fill="url(#ball)"/>
<circle cx="69.5" cy="367.7" r="2.9" fill="url(#ball)"/>
<circle cx="90.7" cy="341.5" r="2.9" fill="url(#ball)"/>
<circle cx="120.2" cy="310.7" r="2.9" fill="url(#ball)"/>
<circle cx="167.5" cy="274.7" r="2.9" fill="url(#ball)"/>
<circle cx="194.5" cy="247.5" r="2.9" fill="url(#ball)"/>
<circle cx="68" cy="241" r="2.9" fill="url(#ball)"/>
<line x1="57" y1="253" x2="79.5" y2="253" stroke="#d97816" stroke-width="1.8" />
<text x="82.5" y="243.7" font-size="10" font-weight="normal" text-anchor="start" fill="#000" font-family="Liberation Sans" >BTD-HeBr</text>
<text x="82.5" y="255.7" font-size="10" font-weight="normal" text-anchor="start" fill="#000" font-family="Liberation Sans" >Fitted line</text>
<text x="58.6" y="294.8" font-size="10" font-family="Liberation Sans">R<tspan font-size="7" dy="-4.6">2</tspan><tspan dy="4.6">=0.9932</tspan></text>
<text x="132" y="385.2" font-size="10" font-family="Liberation Sans">DL=84.6 nGy s<tspan font-size="6.2" dy="-4.2">-1</tspan></text>
<rect x="46" y="226.7" width="167.7" height="175.6" fill="none" stroke="#000" stroke-width="1.2"/>
<line x1="44.4" y1="399.35" x2="46" y2="399.35" stroke="#000" stroke-width="0.8" />
<line x1="44.4" y1="392.3" x2="46" y2="392.3" stroke="#000" stroke-width="0.8" />
<line x1="43" y1="385.25" x2="46" y2="385.25" stroke="#000" stroke-width="1" />
<text x="40.5" y="388.75" font-size="10" font-weight="normal" text-anchor="end" fill="#000" font-family="Liberation Sans" >0</text>
<line x1="44.4" y1="378.2" x2="46" y2="378.2" stroke="#000" stroke-width="0.8" />
<line x1="44.4" y1="371.15" x2="46" y2="371.15" stroke="#000" stroke-width="0.8" />
<line x1="44.4" y1="364.1" x2="46" y2="364.1" stroke="#000" stroke-width="0.8" />
<line x1="44.4" y1="357.05" x2="46" y2="357.05" stroke="#000" stroke-width="0.8" />
<line x1="43" y1="350" x2="46" y2="350" stroke="#000" stroke-width="1" />
<text x="40.5" y="353.5" font-size="10" font-weight="normal" text-anchor="end" fill="#000" font-family="Liberation Sans" >5</text>
<line x1="44.4" y1="342.95" x2="46" y2="342.95" stroke="#000" stroke-width="0.8" />
<line x1="44.4" y1="335.9" x2="46" y2="335.9" stroke="#000" stroke-width="0.8" />
<line x1="44.4" y1="328.85" x2="46" y2="328.85" stroke="#000" stroke-width="0.8" />
<line x1="44.4" y1="321.8" x2="46" y2="321.8" stroke="#000" stroke-width="0.8" />
<line x1="43" y1="314.75" x2="46" y2="314.75" stroke="#000" stroke-width="1" />
<text x="40.5" y="318.25" font-size="10" font-weight="normal" text-anchor="end" fill="#000" font-family="Liberation Sans" >10</text>
<line x1="44.4" y1="307.7" x2="46" y2="307.7" stroke="#000" stroke-width="0.8" />
<line x1="44.4" y1="300.65" x2="46" y2="300.65" stroke="#000" stroke-width="0.8" />
<line x1="44.4" y1="293.6" x2="46" y2="293.6" stroke="#000" stroke-width="0.8" />
<line x1="44.4" y1="286.55" x2="46" y2="286.55" stroke="#000" stroke-width="0.8" />
<line x1="43" y1="279.5" x2="46" y2="279.5" stroke="#000" stroke-width="1" />
<text x="40.5" y="283" font-size="10" font-weight="normal" text-anchor="end" fill="#000" font-family="Liberation Sans" >15</text>
<line x1="44.4" y1="272.45" x2="46" y2="272.45" stroke="#000" stroke-width="0.8" />
<line x1="44.4" y1="265.4" x2="46" y2="265.4" stroke="#000" stroke-width="0.8" />
<line x1="44.4" y1="258.35" x2="46" y2="258.35" stroke="#000" stroke-width="0.8" />
<line x1="44.4" y1="251.3" x2="46" y2="251.3" stroke="#000" stroke-width="0.8" />
<line x1="43" y1="244.25" x2="46" y2="244.25" stroke="#000" stroke-width="1" />
<text x="40.5" y="247.75" font-size="10" font-weight="normal" text-anchor="end" fill="#000" font-family="Liberation Sans" >20</text>
<line x1="44.4" y1="237.2" x2="46" y2="237.2" stroke="#000" stroke-width="0.8" />
<line x1="44.4" y1="230.15" x2="46" y2="230.15" stroke="#000" stroke-width="0.8" />
<line x1="46.05" y1="402.3" x2="46.05" y2="403.9" stroke="#000" stroke-width="0.8" />
<line x1="58" y1="402.3" x2="58" y2="405.3" stroke="#000" stroke-width="1" />
<text x="58" y="416.8" font-size="10" font-weight="normal" text-anchor="middle" fill="#000" font-family="Liberation Sans" >0</text>
<line x1="69.95" y1="402.3" x2="69.95" y2="403.9" stroke="#000" stroke-width="0.8" />
<line x1="81.9" y1="402.3" x2="81.9" y2="403.9" stroke="#000" stroke-width="0.8" />
<line x1="93.85" y1="402.3" x2="93.85" y2="403.9" stroke="#000" stroke-width="0.8" />
<line x1="105.8" y1="402.3" x2="105.8" y2="405.3" stroke="#000" stroke-width="1" />
<text x="105.8" y="416.8" font-size="10" font-weight="normal" text-anchor="middle" fill="#000" font-family="Liberation Sans" >200</text>
<line x1="117.75" y1="402.3" x2="117.75" y2="403.9" stroke="#000" stroke-width="0.8" />
<line x1="129.7" y1="402.3" x2="129.7" y2="403.9" stroke="#000" stroke-width="0.8" />
<line x1="141.65" y1="402.3" x2="141.65" y2="403.9" stroke="#000" stroke-width="0.8" />
<line x1="153.6" y1="402.3" x2="153.6" y2="405.3" stroke="#000" stroke-width="1" />
<text x="153.6" y="416.8" font-size="10" font-weight="normal" text-anchor="middle" fill="#000" font-family="Liberation Sans" >400</text>
<line x1="165.55" y1="402.3" x2="165.55" y2="403.9" stroke="#000" stroke-width="0.8" />
<line x1="177.5" y1="402.3" x2="177.5" y2="403.9" stroke="#000" stroke-width="0.8" />
<line x1="189.45" y1="402.3" x2="189.45" y2="403.9" stroke="#000" stroke-width="0.8" />
<line x1="201.4" y1="402.3" x2="201.4" y2="405.3" stroke="#000" stroke-width="1" />
<text x="201.4" y="416.8" font-size="10" font-weight="normal" text-anchor="middle" fill="#000" font-family="Liberation Sans" >600</text>
<line x1="213.35" y1="402.3" x2="213.35" y2="403.9" stroke="#000" stroke-width="0.8" />
<text x="80.6" y="432" font-size="10.7" font-weight="bold" font-family="Liberation Sans">Dose rate <tspan font-size="15.5" font-weight="normal" dy="1.3">(</tspan><tspan dy="-1.3">nGy s</tspan><tspan font-size="7" dy="-4.6">-1</tspan><tspan font-size="15.5" font-weight="normal" dy="5.9">)</tspan></text>
<text transform="translate(22.8,361.8) rotate(-90)" font-size="10.5" font-weight="bold" text-anchor="start" font-family="Liberation Sans">RL Intensity <tspan font-size="13.5" font-weight="normal" dy="0.9">(</tspan><tspan dy="-0.9">×10</tspan><tspan font-size="7" dy="-4.5">3</tspan><tspan font-size="13.5" font-weight="normal" dy="5.4">)</tspan></text>
<text x="242.5" y="229" font-size="11" font-weight="bold" text-anchor="start" fill="#000" font-family="Liberation Sans" >e</text>
<line x1="263.5" y1="239.4" x2="677" y2="239.4" stroke="#111" stroke-width="1.1" stroke-dasharray="3.5,2.9"/>
<line x1="263.5" y1="241.9" x2="677" y2="241.9" stroke="#333" stroke-width="1.1" stroke-dasharray="3.5,2.9"/>
<polyline points="263.5,291.2 277.5,291.2 278.3,241 280,241.06 282.2,241.08 284.4,241.39 286.6,240.96 288.8,241.26 291,241.34 293.2,241.01 295.4,240.93 297.6,241.06 299.8,241.29 302,241.24 304.2,240.99 306.4,241.16 308.6,241.3 310.8,241.15 313,241.28 315.2,241.48 317.4,241.31 319.6,241.13 321.8,241.01 324,241.11 326.2,241.21 328.4,241.43 330.6,241.37 332.8,241.09 335,241.45 337.2,241.18 339.4,241.32 341.6,240.96 343.8,240.96 346,241.02 348.2,241.43 350.4,241.31 352.6,241.41 354.8,241.29 357,241.14 359.2,241.21 361.4,241.26 363.6,241.42 365.8,241.16 368,241.44 370.2,241.27 372.4,241.4 374.6,241.2 376.8,241.32 379,241.1 381.2,241.21 383.4,241.03 385.6,240.96 387.8,240.92 390,241.32 392.2,241.17 394.4,241.44 396.6,241.4 398.8,241.13 401,241.48 403.2,241.26 405.4,241.36 407.6,241.14 409.8,241.02 412,241 414.2,241.01 416.4,241.26 418.6,240.97 420.8,240.91 423,241.4 425.2,240.96 427.4,241.17 429.6,241.19 431.8,241.27 434,241.2 436.2,241.46 438.4,241.35 440.6,241.24 442.8,241.27 445,241.2 447.2,241.48 449.4,241.04 451.6,241.31 453.8,241.23 456,240.93 458.2,241.08 460.4,241.46 462.6,241.37 464.8,240.91 467,241.08 469.2,240.91 471.4,241.4 473.6,240.97 475.8,240.93 478,241.49 480.2,241.17 482.4,241.09 484.6,240.93 486.8,241.13 489,241.12 491.2,241.21 493.4,240.9 495.6,240.99 497.8,241.03 500,241.16 502.2,241.08 504.4,241.27 506.6,241.07 508.8,241.45 511,241.48 513.2,240.94 515.4,241.03 517.6,241.24 519.8,241.36 522,240.94 524.2,241.01 526.4,241.17 528.6,241.3 530.8,241.44 533,241.42 535.2,241.38 537.4,240.93 539.6,241.49 541.8,241.27 544,240.95 546.2,241.05 548.4,241.27 550.6,241.13 552.8,241.17 555,241.38 557.2,241.39 559.4,241.23 561.6,241.38 563.8,241.14 566,241.48 568.2,241.26 570.4,241.48 572.6,240.93 574.8,241.43 577,241.24 579.2,241.33 581.4,241.02 583.6,241.23 585.8,241.07 588,240.96 590.2,240.9 592.4,241.44 594.6,241.3 596.8,241.02 599,241.05 601.2,241.18 603.4,241.39 605.6,240.97 607.8,241.48 610,241.47 612.2,241.05 614.4,241.28 616.6,241.12 618.8,241.32 621,240.95 623.2,241.18 625.4,241.25 627.6,241.28 629.8,241.32 632,241.43 634.2,241.04 636.4,240.99 638.6,241.13 640.8,241.24 643,241.48 645.2,241.33 647.4,241.34 649.6,241.48 651.8,241.06 654,241.06 656.2,241.15 658.4,241.08 660.6,241.29 662.5,241.2 663,291.2 677,291.2" fill="none" stroke="#d9832b" stroke-width="1.4" stroke-linejoin="round" />
<rect x="263.5" y="226.3" width="413.5" height="70.9" fill="none" stroke="#000" stroke-width="1.2"/>
<line x1="260.5" y1="291.2" x2="263.5" y2="291.2" stroke="#000" stroke-width="1" />
<text x="258.3" y="294.8" font-size="10" font-weight="normal" text-anchor="end" fill="#000" font-family="Liberation Sans" >0.0</text>
<line x1="261.9" y1="278.3" x2="263.5" y2="278.3" stroke="#000" stroke-width="0.8" />
<line x1="260.5" y1="265.4" x2="263.5" y2="265.4" stroke="#000" stroke-width="1" />
<text x="258.3" y="269" font-size="10" font-weight="normal" text-anchor="end" fill="#000" font-family="Liberation Sans" >0.5</text>
<line x1="261.9" y1="252.5" x2="263.5" y2="252.5" stroke="#000" stroke-width="0.8" />
<line x1="260.5" y1="239.6" x2="263.5" y2="239.6" stroke="#000" stroke-width="1" />
<text x="258.3" y="243.2" font-size="10" font-weight="normal" text-anchor="end" fill="#000" font-family="Liberation Sans" >1.0</text>
<line x1="263.5" y1="297.2" x2="263.5" y2="300.2" stroke="#000" stroke-width="1" />
<text x="263.5" y="311.7" font-size="10" font-weight="normal" text-anchor="middle" fill="#000" font-family="Liberation Sans" >0</text>
<line x1="280.04" y1="297.2" x2="280.04" y2="298.8" stroke="#000" stroke-width="0.8" />
<line x1="296.58" y1="297.2" x2="296.58" y2="298.8" stroke="#000" stroke-width="0.8" />
<line x1="313.12" y1="297.2" x2="313.12" y2="298.8" stroke="#000" stroke-width="0.8" />
<line x1="329.66" y1="297.2" x2="329.66" y2="298.8" stroke="#000" stroke-width="0.8" />
<line x1="346.2" y1="297.2" x2="346.2" y2="300.2" stroke="#000" stroke-width="1" />
<text x="346.2" y="311.7" font-size="10" font-weight="normal" text-anchor="middle" fill="#000" font-family="Liberation Sans" >120</text>
<line x1="362.74" y1="297.2" x2="362.74" y2="298.8" stroke="#000" stroke-width="0.8" />
<line x1="379.28" y1="297.2" x2="379.28" y2="298.8" stroke="#000" stroke-width="0.8" />
<line x1="395.82" y1="297.2" x2="395.82" y2="298.8" stroke="#000" stroke-width="0.8" />
<line x1="412.36" y1="297.2" x2="412.36" y2="298.8" stroke="#000" stroke-width="0.8" />
<line x1="428.9" y1="297.2" x2="428.9" y2="300.2" stroke="#000" stroke-width="1" />
<text x="428.9" y="311.7" font-size="10" font-weight="normal" text-anchor="middle" fill="#000" font-family="Liberation Sans" >240</text>
<line x1="445.44" y1="297.2" x2="445.44" y2="298.8" stroke="#000" stroke-width="0.8" />
<line x1="461.98" y1="297.2" x2="461.98" y2="298.8" stroke="#000" stroke-width="0.8" />
<line x1="478.52" y1="297.2" x2="478.52" y2="298.8" stroke="#000" stroke-width="0.8" />
<line x1="495.06" y1="297.2" x2="495.06" y2="298.8" stroke="#000" stroke-width="0.8" />
<line x1="511.6" y1="297.2" x2="511.6" y2="300.2" stroke="#000" stroke-width="1" />
<text x="511.6" y="311.7" font-size="10" font-weight="normal" text-anchor="middle" fill="#000" font-family="Liberation Sans" >360</text>
<line x1="528.14" y1="297.2" x2="528.14" y2="298.8" stroke="#000" stroke-width="0.8" />
<line x1="544.68" y1="297.2" x2="544.68" y2="298.8" stroke="#000" stroke-width="0.8" />
<line x1="561.22" y1="297.2" x2="561.22" y2="298.8" stroke="#000" stroke-width="0.8" />
<line x1="577.76" y1="297.2" x2="577.76" y2="298.8" stroke="#000" stroke-width="0.8" />
<line x1="594.3" y1="297.2" x2="594.3" y2="300.2" stroke="#000" stroke-width="1" />
<text x="594.3" y="311.7" font-size="10" font-weight="normal" text-anchor="middle" fill="#000" font-family="Liberation Sans" >480</text>
<line x1="610.84" y1="297.2" x2="610.84" y2="298.8" stroke="#000" stroke-width="0.8" />
<line x1="627.38" y1="297.2" x2="627.38" y2="298.8" stroke="#000" stroke-width="0.8" />
<line x1="643.92" y1="297.2" x2="643.92" y2="298.8" stroke="#000" stroke-width="0.8" />
<line x1="660.46" y1="297.2" x2="660.46" y2="298.8" stroke="#000" stroke-width="0.8" />
<line x1="677" y1="297.2" x2="677" y2="300.2" stroke="#000" stroke-width="1" />
<text x="677" y="311.7" font-size="10" font-weight="normal" text-anchor="middle" fill="#000" font-family="Liberation Sans" >600</text>
<line x1="266" y1="232.5" x2="289" y2="232.5" stroke="#d9832b" stroke-width="1.5" />
<text x="291.8" y="236" font-size="10" font-weight="normal" text-anchor="start" fill="#000" font-family="Liberation Sans" >BTD-HeBr</text>
<text x="640.4" y="253.4" font-size="10.2" font-weight="normal" text-anchor="start" fill="#000" font-family="Liberation Sans" >98%</text>
<text x="470.6" y="325.4" font-size="10.7" font-weight="bold" text-anchor="middle" fill="#000" font-family="Liberation Sans" >Time (min)</text>
<text x="243.5" y="327.5" font-size="11" font-weight="bold" text-anchor="start" fill="#000" font-family="Liberation Sans" >f</text>
<line x1="263.5" y1="345.5" x2="677" y2="345.5" stroke="#111" stroke-width="1.1" stroke-dasharray="3.5,2.9"/>
<line x1="263.5" y1="348.1" x2="677" y2="348.1" stroke="#444" stroke-width="1.2" stroke-dasharray="3.3,3.1"/>
<polyline points="263.8,398 264,395.4 265.5,397.7 274.2,397.7 274.8,397.5 276.55,346.1 277.45,346.1 279.2,397.5 281.45,397.5 283.2,346.1 284.1,346.1 285.85,397.5 288.11,397.5 289.86,346.1 290.76,346.1 292.51,397.5 294.76,397.5 296.51,346.1 297.41,346.1 299.16,397.5 301.42,397.5 303.17,346.1 304.07,346.1 305.82,397.5 308.07,397.5 309.82,346.1 310.72,346.1 312.47,397.5 314.73,397.5 316.48,346.1 317.38,346.1 319.13,397.5 321.38,397.5 323.13,346.1 324.03,346.1 325.78,397.5 328.04,397.5 329.79,346.1 330.69,346.1 332.44,397.5 334.69,397.5 336.44,346.1 337.34,346.1 339.09,397.5 341.35,397.5 343.1,346.1 344,346.1 345.75,397.5 348,397.5 349.75,346.1 350.65,346.1 352.4,397.5 354.66,397.5 356.41,346.1 357.31,346.1 359.06,397.5 361.31,397.5 363.06,346.1 363.96,346.1 365.71,397.5 367.97,397.5 369.72,346.1 370.62,346.1 372.37,397.5 374.62,397.5 376.38,346.1 377.27,346.1 379.02,397.5 381.28,397.5 383.03,346.1 383.93,346.1 385.68,397.5 387.94,397.5 389.69,346.1 390.58,346.1 392.33,397.5 394.59,397.5 396.34,346.1 397.24,346.1 398.99,397.5 401.25,397.5 403,346.1 403.89,346.1 405.64,397.5 407.9,397.5 409.65,346.1 410.55,346.1 412.3,397.5 414.56,397.5 416.31,346.1 417.2,346.1 418.95,397.5 421.21,397.5 422.96,346.1 423.86,346.1 425.61,397.5 427.87,397.5 429.62,346.1 430.51,346.1 432.26,397.5 434.52,397.5 436.27,346.1 437.17,346.1 438.92,397.5 441.18,397.5 442.93,346.1 443.82,346.1 445.57,397.5 447.83,397.5 449.58,346.1 450.48,346.1 452.23,397.5 454.49,397.5 456.24,346.1 457.13,346.1 458.88,397.5 461.14,397.5 462.89,346.1 463.79,346.1 465.54,397.5 467.8,397.5 469.55,346.1 470.44,346.1 472.19,397.5 474.45,397.5 476.2,346.1 477.1,346.1 478.85,397.5 481.11,397.5 482.86,346.1 483.75,346.1 485.5,397.5 487.76,397.5 489.51,346.1 490.41,346.1 492.16,397.5 494.42,397.5 496.17,346.1 497.06,346.1 498.81,397.5 501.07,397.5 502.82,346.1 503.72,346.1 505.47,397.5 507.73,397.5 509.48,346.1 510.38,346.1 512.12,397.5 514.38,397.5 516.13,346.1 517.03,346.1 518.78,397.5 521.03,397.5 522.78,346.1 523.69,346.1 525.44,397.5 527.69,397.5 529.44,346.1 530.34,346.1 532.09,397.5 534.35,397.5 536.1,346.1 537,346.1 538.75,397.5 541,397.5 542.75,346.1 543.65,346.1 545.4,397.5 547.65,397.5 549.4,346.1 550.31,346.1 552.06,397.5 554.31,397.5 556.06,346.1 556.96,346.1 558.71,397.5 560.96,397.5 562.71,346.1 563.62,346.1 565.37,397.5 567.62,397.5 569.37,346.1 570.27,346.1 572.02,397.5 574.27,397.5 576.02,346.1 576.93,346.1 578.68,397.5 580.93,397.5 582.68,346.1 583.58,346.1 585.33,397.5 587.59,397.5 589.34,346.1 590.24,346.1 591.99,397.5 594.24,397.5 595.99,346.1 596.89,346.1 598.64,397.5 600.89,397.5 602.64,346.1 603.55,346.1 605.3,397.5 607.55,397.5 609.3,346.1 610.2,346.1 611.95,397.5 614.2,397.5 615.95,346.1 616.86,346.1 618.61,397.5 620.86,397.5 622.61,346.1 623.51,346.1 625.26,397.5 627.51,397.5 629.26,346.1 630.17,346.1 631.92,397.5 634.17,397.5 635.92,346.1 636.82,346.1 638.57,397.5 640.83,397.5 642.58,346.1 643.48,346.1 645.23,397.5 647.48,397.5 649.23,346.1 650.13,346.1 651.88,397.5 677,397.7" fill="none" stroke="#d9832b" stroke-width="1.35" stroke-linejoin="round" />
<rect x="263.5" y="332.5" width="413.5" height="70.9" fill="none" stroke="#000" stroke-width="1.2"/>
<line x1="260.5" y1="398" x2="263.5" y2="398" stroke="#000" stroke-width="1" />
<text x="258.3" y="401.6" font-size="10" font-weight="normal" text-anchor="end" fill="#000" font-family="Liberation Sans" >0.0</text>
<line x1="261.9" y1="384.95" x2="263.5" y2="384.95" stroke="#000" stroke-width="0.8" />
<line x1="260.5" y1="371.9" x2="263.5" y2="371.9" stroke="#000" stroke-width="1" />
<text x="258.3" y="375.5" font-size="10" font-weight="normal" text-anchor="end" fill="#000" font-family="Liberation Sans" >0.5</text>
<line x1="261.9" y1="358.85" x2="263.5" y2="358.85" stroke="#000" stroke-width="0.8" />
<line x1="260.5" y1="345.8" x2="263.5" y2="345.8" stroke="#000" stroke-width="1" />
<text x="258.3" y="349.4" font-size="10" font-weight="normal" text-anchor="end" fill="#000" font-family="Liberation Sans" >1.0</text>
<line x1="263.5" y1="403.4" x2="263.5" y2="406.4" stroke="#000" stroke-width="1" />
<text x="263.5" y="417.6" font-size="10" font-weight="normal" text-anchor="middle" fill="#000" font-family="Liberation Sans" >0</text>
<line x1="280.04" y1="403.4" x2="280.04" y2="405" stroke="#000" stroke-width="0.8" />
<line x1="296.58" y1="403.4" x2="296.58" y2="405" stroke="#000" stroke-width="0.8" />
<line x1="313.12" y1="403.4" x2="313.12" y2="405" stroke="#000" stroke-width="0.8" />
<line x1="329.66" y1="403.4" x2="329.66" y2="405" stroke="#000" stroke-width="0.8" />
<line x1="346.2" y1="403.4" x2="346.2" y2="406.4" stroke="#000" stroke-width="1" />
<text x="346.2" y="417.6" font-size="10" font-weight="normal" text-anchor="middle" fill="#000" font-family="Liberation Sans" >10</text>
<line x1="362.74" y1="403.4" x2="362.74" y2="405" stroke="#000" stroke-width="0.8" />
<line x1="379.28" y1="403.4" x2="379.28" y2="405" stroke="#000" stroke-width="0.8" />
<line x1="395.82" y1="403.4" x2="395.82" y2="405" stroke="#000" stroke-width="0.8" />
<line x1="412.36" y1="403.4" x2="412.36" y2="405" stroke="#000" stroke-width="0.8" />
<line x1="428.9" y1="403.4" x2="428.9" y2="406.4" stroke="#000" stroke-width="1" />
<text x="428.9" y="417.6" font-size="10" font-weight="normal" text-anchor="middle" fill="#000" font-family="Liberation Sans" >20</text>
<line x1="445.44" y1="403.4" x2="445.44" y2="405" stroke="#000" stroke-width="0.8" />
<line x1="461.98" y1="403.4" x2="461.98" y2="405" stroke="#000" stroke-width="0.8" />
<line x1="478.52" y1="403.4" x2="478.52" y2="405" stroke="#000" stroke-width="0.8" />
<line x1="495.06" y1="403.4" x2="495.06" y2="405" stroke="#000" stroke-width="0.8" />
<line x1="511.6" y1="403.4" x2="511.6" y2="406.4" stroke="#000" stroke-width="1" />
<text x="511.6" y="417.6" font-size="10" font-weight="normal" text-anchor="middle" fill="#000" font-family="Liberation Sans" >30</text>
<line x1="528.14" y1="403.4" x2="528.14" y2="405" stroke="#000" stroke-width="0.8" />
<line x1="544.68" y1="403.4" x2="544.68" y2="405" stroke="#000" stroke-width="0.8" />
<line x1="561.22" y1="403.4" x2="561.22" y2="405" stroke="#000" stroke-width="0.8" />
<line x1="577.76" y1="403.4" x2="577.76" y2="405" stroke="#000" stroke-width="0.8" />
<line x1="594.3" y1="403.4" x2="594.3" y2="406.4" stroke="#000" stroke-width="1" />
<text x="594.3" y="417.6" font-size="10" font-weight="normal" text-anchor="middle" fill="#000" font-family="Liberation Sans" >40</text>
<line x1="610.84" y1="403.4" x2="610.84" y2="405" stroke="#000" stroke-width="0.8" />
<line x1="627.38" y1="403.4" x2="627.38" y2="405" stroke="#000" stroke-width="0.8" />
<line x1="643.92" y1="403.4" x2="643.92" y2="405" stroke="#000" stroke-width="0.8" />
<line x1="660.46" y1="403.4" x2="660.46" y2="405" stroke="#000" stroke-width="0.8" />
<line x1="677" y1="403.4" x2="677" y2="406.4" stroke="#000" stroke-width="1" />
<text x="677" y="417.6" font-size="10" font-weight="normal" text-anchor="middle" fill="#000" font-family="Liberation Sans" >50</text>
<line x1="268.7" y1="338.7" x2="290.7" y2="338.7" stroke="#d9832b" stroke-width="1.5" />
<text x="293.7" y="342" font-size="10" font-weight="normal" text-anchor="start" fill="#000" font-family="Liberation Sans" >BTD-HeBr</text>
<text x="654.3" y="360.7" font-size="10.2" font-weight="normal" text-anchor="start" fill="#000" font-family="Liberation Sans" >98%</text>
<text x="471.4" y="425.6" font-size="10.4" font-weight="bold" text-anchor="middle" fill="#000" font-family="Liberation Sans" >Time (min)</text>
<text transform="translate(239.0,366.2) rotate(-90)" font-size="11" font-weight="bold" text-anchor="start" font-family="Liberation Sans">RL intensity (norm.)</text>
</svg></body></html>
